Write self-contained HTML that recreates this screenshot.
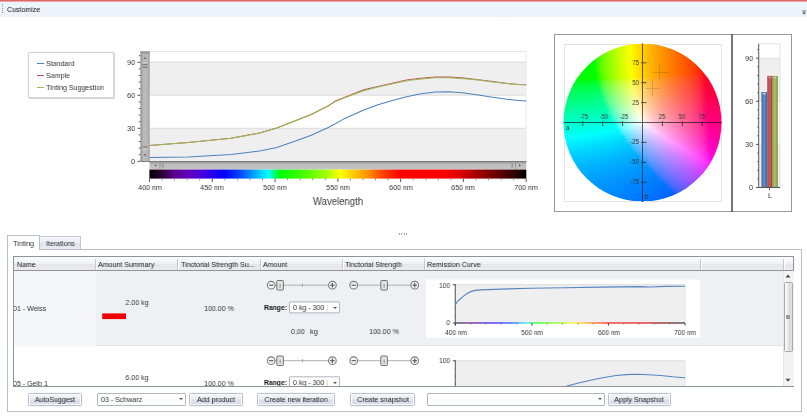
<!DOCTYPE html>
<html><head><meta charset="utf-8">
<style>
*{box-sizing:border-box;margin:0;padding:0}
html,body{width:807px;height:419px;overflow:hidden;background:#fff;font-family:"Liberation Sans",sans-serif;color:#222}
.a{position:absolute}
.t{position:absolute;white-space:nowrap;will-change:transform;font-size:7.5px;line-height:10px;color:#333}
.t{transform-origin:0 50%;transform:scaleX(.94)}
.tc{transform-origin:50% 50%;transform:translateX(-50%) scaleX(.94)}
.tr{transform-origin:100% 50%;transform:translateX(-100%) scaleX(.94)}
.w6{font-size:6.3px;line-height:8px;color:#333}

.hd{position:absolute;top:258.5px;height:11px;border-right:1px solid rgba(255,255,255,.9);box-shadow:inset -1px 0 0 #c6c9d0}
.btn{position:absolute;top:393px;height:12.5px;border:1px solid #b9c0cb;border-radius:1.5px;background:linear-gradient(#f3f6fa 0%,#e8ecf3 48%,#dde3ec 52%,#d5dce7 100%);box-shadow:inset 0 0 0 1px rgba(255,255,255,.8),0 0 1px rgba(150,165,190,.55)}
.cmb{position:absolute;border:1px solid #b2b6be;border-radius:1px;background:linear-gradient(#fff,#fbfbfc)}
.arr{position:absolute;width:0;height:0;border-left:2px solid transparent;border-right:2px solid transparent;border-top:2.4px solid #555}
.clip{position:absolute;left:13.5px;top:270.5px;width:769.5px;height:115.5px;overflow:hidden}
.m{font-size:6.9px}
#wheel i{position:absolute;height:1px;display:block}
</style></head><body>
<!-- top bar -->
<div class="a" style="left:0;top:0;width:807px;height:2px;background:linear-gradient(#e0666b 0,#e0666b 45%,#f6d5d8 100%)"></div>
<div class="a" style="left:0;top:2px;width:807px;height:14.5px;background:linear-gradient(#ecf6fd,#eef1fb)"></div>
<div class="a" style="left:2px;top:4px;width:1px;height:9px;background:repeating-linear-gradient(#8a8f9a 0 1px,transparent 1px 2px)"></div>
<div class="t" id="cust" style="left:7px;top:4.7px;color:#141414">Customize</div>

<svg class="a" style="left:799px;top:8px" width="8" height="8" viewBox="799 8 8 8"><rect x="802.3" y="10.6" width="3.6" height=".9" fill="#555"/><path d="M802.2,12.4 L806,12.4 L804.1,14.4 Z" fill="#444"/></svg>
<!-- legend -->
<div class="a" style="left:28px;top:52px;width:86px;height:46px;border:1px solid #d4d4d4;border-radius:2px;box-shadow:0.5px 0.5px 1px rgba(0,0,0,.18);background:#fff"></div>
<div class="a" style="left:36.5px;top:62.5px;width:7px;height:1px;background:#4f81bd"></div>
<div class="a" style="left:36.5px;top:74.5px;width:7px;height:1px;background:#c0504d"></div>
<div class="a" style="left:36.5px;top:86.5px;width:7px;height:1px;background:#9bbb59"></div>
<div class="t" id="lg1" style="left:46px;top:59px">Standard</div>
<div class="t" id="lg2" style="left:46px;top:70.7px">Sample</div>
<div class="t" id="lg3" style="left:46px;top:82.7px">Tinting Suggestion</div>

<!-- spectral chart -->
<svg class="a" style="left:0;top:0" width="545" height="215" viewBox="0 0 545 215">
 <defs>
  <linearGradient id="vs" x1="0" x2="1" y1="0" y2="0"><stop offset="0" stop-color="#8e8e8e"/><stop offset=".35" stop-color="#bdbdbd"/><stop offset=".8" stop-color="#b4b4b4"/><stop offset="1" stop-color="#9a9a9a"/></linearGradient>
  <linearGradient id="hs" x1="0" x2="0" y1="0" y2="1"><stop offset="0" stop-color="#8a8a8a"/><stop offset=".35" stop-color="#bdbdbd"/><stop offset="1" stop-color="#c4c4c4"/></linearGradient>
  <linearGradient id="sp" x1="0" x2="1" y1="0" y2="0">
   <stop offset="0" stop-color="#000"/><stop offset=".035" stop-color="#2a0036"/><stop offset=".067" stop-color="#5a0090"/><stop offset=".107" stop-color="#6000c0"/><stop offset=".147" stop-color="#4000e0"/><stop offset=".167" stop-color="#2000f0"/><stop offset=".2" stop-color="#0000ff"/><stop offset=".237" stop-color="#0040ff"/><stop offset=".27" stop-color="#0090ff"/><stop offset=".303" stop-color="#00e0ff"/><stop offset=".317" stop-color="#00ffff"/><stop offset=".33" stop-color="#00ff80"/><stop offset=".347" stop-color="#00ff00"/><stop offset=".403" stop-color="#40ff00"/><stop offset=".47" stop-color="#a0ff00"/><stop offset=".487" stop-color="#d0ff00"/><stop offset=".507" stop-color="#ffff00"/><stop offset=".547" stop-color="#ffc000"/><stop offset=".58" stop-color="#ff9000"/><stop offset=".61" stop-color="#ff5000"/><stop offset=".643" stop-color="#ff2000"/><stop offset=".667" stop-color="#ff0000"/><stop offset=".77" stop-color="#ff0000"/><stop offset=".823" stop-color="#e00000"/><stop offset=".86" stop-color="#b00000"/><stop offset=".9" stop-color="#800000"/><stop offset=".94" stop-color="#500000"/><stop offset=".98" stop-color="#200000"/><stop offset="1" stop-color="#000"/>
  </linearGradient>
 </defs>
 <!-- bands -->
 <rect x="149.5" y="62" width="376.7" height="33.2" fill="#efefef"/>
 <rect x="149.5" y="128.3" width="376.7" height="33" fill="#efefef"/>
 <g stroke="#dcdcdc" stroke-width="1">
  <line x1="140.5" y1="51.5" x2="526.2" y2="51.5" stroke="#e6e6e6"/>
  <line x1="149.5" y1="62" x2="526.2" y2="62"/>
  <line x1="149.5" y1="95.2" x2="526.2" y2="95.2"/>
  <line x1="149.5" y1="128.3" x2="526.2" y2="128.3"/>
  <line x1="526" y1="51.5" x2="526" y2="161" stroke="#e9e9e9"/>
 </g>
 <!-- curves -->
 <path id="cS" fill="none" stroke="#4f81bd" stroke-width="1.05" d="M149.5,157.6 L188,156.9 L231,154.6 L259.6,150.9 L276.8,147.4 L294,141.6 L311.2,135.3 L328.4,127.5 L345,118.4 L349.3,116.5 L363.7,110 L378,104.8 L392.3,100.4 L406.6,96.7 L421,93.8 L435.3,92.1 L449.6,91.8 L464,93 L478.3,95 L492.6,97.3 L507,99.3 L518.4,100.4 L526.2,101"/>
 <path id="cR" fill="none" stroke="#c0504d" stroke-width="1.05" d="M149.5,145.4 L188,142.5 L231,138.3 L259.6,133.1 L276.8,127.9 L294,121.2 L311.2,114.5 L328.4,105.7 L335,101.2 L349.3,95.5 L363.7,89.7 L378,86.6 L392.3,83.3 L406.6,80 L421,78.2 L435.3,77.1 L449.6,77.1 L464,78 L478.3,79.7 L492.6,81.6 L507,83.6 L518.4,84.4 L526.2,84.7"/>
 <path id="cT" fill="none" stroke="#9bbb59" stroke-width="1.05" d="M149.5,145.4 L188,142.5 L231,138.3 L259.6,133.1 L276.8,127.9 L294,121.2 L311.2,114.5 L328.4,105.7 L335,101.6 L349.3,96 L363.7,90.7 L378,87.1 L392.3,83.8 L406.6,80.7 L421,78.9 L435.3,77.8 L449.6,77.8 L464,78.7 L478.3,80.1 L492.6,81.9 L507,83.6 L518.4,84.4 L526.2,84.7"/>
 <!-- v scrollbar -->
 <rect x="140.4" y="51.4" width="9.3" height="110" fill="url(#vs)"/>
 <!-- h scrollbar -->
 <rect x="149.5" y="161.3" width="376.8" height="8.3" fill="url(#hs)"/>
 <rect x="140.4" y="161" width="386" height="1" fill="#7d7d7d"/>
<g fill="#6a6a6a">
  <rect x="140.4" y="51.4" width="9.3" height="2.2" fill="#9a9a9a"/>
  <path d="M143.6,59 L146.4,59 L145,57 Z"/>
  <rect x="142" y="62.3" width="6" height=".8" fill="#d0d0d0"/>
  <rect x="142.3" y="64" width="5.4" height=".9" fill="#777"/>
  <rect x="142.8" y="66.4" width="4.4" height="1.4" fill="#7d7d7d"/>
  <rect x="142.8" y="146.3" width="4.4" height="1.2" fill="#7d7d7d"/>
  <rect x="142.3" y="149" width="5.4" height=".9" fill="#d4d0dc"/>
  <path d="M143.6,154.3 L146.4,154.3 L145,156.3 Z"/>
  <path d="M156.4,164 L156.4,166.8 L154.4,165.4 Z"/>
  <rect x="159.6" y="162.5" width=".8" height="6.5" fill="#8c8c8c"/>
  <rect x="162.3" y="163.6" width="1.2" height="4" fill="#8a8a8a"/>
  <path d="M519,164 L519,166.8 L521,165.4 Z"/>
  <rect x="515.2" y="162.5" width=".8" height="6.5" fill="#8c8c8c"/>
  <rect x="511.6" y="163.6" width="1.2" height="4" fill="#8a8a8a"/>
 </g>
 <!-- spectrum -->
 <rect x="149.4" y="169.6" width="376.9" height="9" fill="url(#sp)"/>
 <!-- y ticks -->
 <g stroke="#555" stroke-width="1" id="yt"><line x1="137.5" y1="161.3" x2="140.4" y2="161.3"/><line x1="138.8" y1="154.7" x2="140.4" y2="154.7"/><line x1="138.8" y1="148.1" x2="140.4" y2="148.1"/><line x1="138.8" y1="141.5" x2="140.4" y2="141.5"/><line x1="138.8" y1="134.9" x2="140.4" y2="134.9"/><line x1="137.5" y1="128.3" x2="140.4" y2="128.3"/><line x1="138.8" y1="121.7" x2="140.4" y2="121.7"/><line x1="138.8" y1="115.1" x2="140.4" y2="115.1"/><line x1="138.8" y1="108.5" x2="140.4" y2="108.5"/><line x1="138.8" y1="101.9" x2="140.4" y2="101.9"/><line x1="137.5" y1="95.3" x2="140.4" y2="95.3"/><line x1="138.8" y1="88.7" x2="140.4" y2="88.7"/><line x1="138.8" y1="82.1" x2="140.4" y2="82.1"/><line x1="138.8" y1="75.5" x2="140.4" y2="75.5"/><line x1="138.8" y1="68.9" x2="140.4" y2="68.9"/><line x1="137.5" y1="62.3" x2="140.4" y2="62.3"/><line x1="138.8" y1="55.7" x2="140.4" y2="55.7"/></g>
 <g stroke="#555" stroke-width="1" id="xt"><line x1="149.5" y1="178.5" x2="149.5" y2="182"/><line x1="162.1" y1="178.5" x2="162.1" y2="180.3" stroke="#8a8a8a"/><line x1="174.6" y1="178.5" x2="174.6" y2="180.3" stroke="#8a8a8a"/><line x1="187.2" y1="178.5" x2="187.2" y2="180.3" stroke="#8a8a8a"/><line x1="199.7" y1="178.5" x2="199.7" y2="180.3" stroke="#8a8a8a"/><line x1="212.3" y1="178.5" x2="212.3" y2="182"/><line x1="224.8" y1="178.5" x2="224.8" y2="180.3" stroke="#8a8a8a"/><line x1="237.4" y1="178.5" x2="237.4" y2="180.3" stroke="#8a8a8a"/><line x1="250.0" y1="178.5" x2="250.0" y2="180.3" stroke="#8a8a8a"/><line x1="262.5" y1="178.5" x2="262.5" y2="180.3" stroke="#8a8a8a"/><line x1="275.1" y1="178.5" x2="275.1" y2="182"/><line x1="287.6" y1="178.5" x2="287.6" y2="180.3" stroke="#8a8a8a"/><line x1="300.2" y1="178.5" x2="300.2" y2="180.3" stroke="#8a8a8a"/><line x1="312.7" y1="178.5" x2="312.7" y2="180.3" stroke="#8a8a8a"/><line x1="325.3" y1="178.5" x2="325.3" y2="180.3" stroke="#8a8a8a"/><line x1="337.9" y1="178.5" x2="337.9" y2="182"/><line x1="350.4" y1="178.5" x2="350.4" y2="180.3" stroke="#8a8a8a"/><line x1="363.0" y1="178.5" x2="363.0" y2="180.3" stroke="#8a8a8a"/><line x1="375.5" y1="178.5" x2="375.5" y2="180.3" stroke="#8a8a8a"/><line x1="388.1" y1="178.5" x2="388.1" y2="180.3" stroke="#8a8a8a"/><line x1="400.6" y1="178.5" x2="400.6" y2="182"/><line x1="413.2" y1="178.5" x2="413.2" y2="180.3" stroke="#8a8a8a"/><line x1="425.8" y1="178.5" x2="425.8" y2="180.3" stroke="#8a8a8a"/><line x1="438.3" y1="178.5" x2="438.3" y2="180.3" stroke="#8a8a8a"/><line x1="450.9" y1="178.5" x2="450.9" y2="180.3" stroke="#8a8a8a"/><line x1="463.4" y1="178.5" x2="463.4" y2="182"/><line x1="476.0" y1="178.5" x2="476.0" y2="180.3" stroke="#8a8a8a"/><line x1="488.5" y1="178.5" x2="488.5" y2="180.3" stroke="#8a8a8a"/><line x1="501.1" y1="178.5" x2="501.1" y2="180.3" stroke="#8a8a8a"/><line x1="513.7" y1="178.5" x2="513.7" y2="180.3" stroke="#8a8a8a"/><line x1="526.2" y1="178.5" x2="526.2" y2="182"/></g>
</svg>
<div class="t tr" style="left:134.5px;top:57.8px">90</div>
<div class="t tr" style="left:134.5px;top:90.8px">60</div>
<div class="t tr" style="left:134.5px;top:123.9px">30</div>
<div class="t tr" style="left:134.5px;top:157.0px">0</div>
<div class="t tc" style="left:149.5px;top:183px">400 nm</div>
<div class="t tc" style="left:212.3px;top:183px">450 nm</div>
<div class="t tc" style="left:275.1px;top:183px">500 nm</div>
<div class="t tc" style="left:337.8px;top:183px">550 nm</div>
<div class="t tc" style="left:400.6px;top:183px">600 nm</div>
<div class="t tc" style="left:463.4px;top:183px">650 nm</div>
<div class="t tc" style="left:526.2px;top:183px">700 nm</div>
<div class="t tc" style="left:338px;top:196px;font-size:10.2px;line-height:12px;color:#3a3a3a">Wavelength</div>

<!-- colour wheel panel -->
<div class="a" style="left:553.5px;top:33.5px;width:179px;height:178.5px;border:1px solid #979797;background:#fff"></div>
<div class="a" style="left:731.5px;top:33.5px;width:60px;height:178.5px;border:1px solid #979797;border-left:none;background:#fff"></div>
<svg class="a" style="left:729px;top:33px" width="6" height="180" viewBox="729 33 6 180"><rect x="731.2" y="34" width="1.6" height="178" fill="#555"/></svg>
<div class="a" style="left:563.5px;top:43.5px;width:158.5px;height:158.5px;border:1px solid #e4e4e4;background:#fff"></div>
<div id="wheel" style="position:absolute;left:563px;top:43px;width:159px;height:159px;clip-path:circle(79px at 79.5px 79.5px)"><i style="left:78px;top:0px;width:3px;background:linear-gradient(90deg,#ffd200,#ffc800)"></i><i style="left:65px;top:1px;width:29px;background:linear-gradient(90deg,#f5ff00,#fff600,#ffe400,#ffd500,#ffc600,#ffb900,#ffac00,#ffa000)"></i><i style="left:60px;top:2px;width:39px;background:linear-gradient(90deg,#ddff00,#efff00,#fffc00,#ffeb00,#ffdc00,#ffcd00,#ffc000,#ffb400,#ffa900,#ff9e00,#ff9300)"></i><i style="left:56px;top:3px;width:47px;background:linear-gradient(90deg,#c9ff00,#dcff00,#efff00,#fffd00,#ffeb00,#ffdc00,#ffcd00,#ffc000,#ffb400,#ffa800,#ff9d00,#ff9300,#ff8900)"></i><i style="left:53px;top:4px;width:53px;background:linear-gradient(90deg,#bbff00,#ceff00,#e2ff00,#f5ff00,#fff600,#ffe500,#ffd500,#ffc700,#ffb900,#ffad00,#ffa100,#ff9600,#ff8b00,#ff8100)"></i><i style="left:50px;top:5px;width:59px;background:linear-gradient(90deg,#abff00,#bfff00,#d2ff00,#e4ff00,#f7ff00,#fff400,#ffe400,#ffd500,#ffc700,#ffba00,#ffae00,#ffa300,#ff9800,#ff8e00,#ff8300,#ff7900)"></i><i style="left:48px;top:6px;width:63px;background:linear-gradient(90deg,#a1ff00,#b5ff00,#c8ff00,#dbff00,#edff00,#fffe00,#ffec00,#ffdc00,#ffce00,#ffc100,#ffb400,#ffa900,#ff9d00,#ff9300,#ff8900,#ff7e00,#ff7400)"></i><i style="left:45px;top:7px;width:69px;background:linear-gradient(90deg,#90ff00,#a6ff00,#baff00,#ceff00,#e1ff00,#f5ff00,#fff600,#ffe500,#ffd500,#ffc700,#ffba00,#ffae00,#ffa200,#ff9700,#ff8c00,#ff8100,#ff7700,#ff6d00)"></i><i style="left:43px;top:8px;width:73px;background:linear-gradient(90deg,#84ff00,#9bff00,#b0ff00,#c4ff00,#d7ff00,#ebff00,#feff00,#ffee00,#ffdd00,#ffce00,#ffc100,#ffb400,#ffa800,#ff9c00,#ff9100,#ff8700,#ff7c00,#ff7200,#ff6800)"></i><i style="left:41px;top:9px;width:77px;background:linear-gradient(90deg,#77ff00,#8fff00,#a5ff00,#baff00,#ceff00,#e1ff00,#f4ff00,#fff700,#ffe500,#ffd600,#ffc700,#ffba00,#ffae00,#ffa200,#ff9700,#ff8c00,#ff8200,#ff7700,#ff6d00,#ff6300)"></i><i style="left:40px;top:10px;width:79px;background:linear-gradient(90deg,#6fff00,#88ff00,#9fff00,#b3ff00,#c6ff00,#d9ff00,#ecff00,#ffff00,#ffed00,#ffdd00,#ffcf00,#ffc100,#ffb500,#ffa900,#ff9e00,#ff9300,#ff8900,#ff7e00,#ff7400,#ff6a00,#ff6000)"></i><i style="left:38px;top:11px;width:83px;background:linear-gradient(90deg,#60ff00,#7cff00,#93ff00,#a8ff00,#bcff00,#d0ff00,#e2ff00,#f5ff00,#fff600,#ffe500,#ffd600,#ffc800,#ffbb00,#ffaf00,#ffa300,#ff9800,#ff8e00,#ff8400,#ff7900,#ff6f00,#ff6500,#ff5b00)"></i><i style="left:36px;top:12px;width:87px;background:linear-gradient(90deg,#4eff00,#6eff00,#87ff00,#9eff00,#b2ff00,#c6ff00,#d9ff00,#ecff00,#feff00,#ffee00,#ffdd00,#ffcf00,#ffc100,#ffb500,#ffa900,#ff9e00,#ff9300,#ff8900,#ff7e00,#ff7400,#ff6a00,#ff6000,#ff5600)"></i><i style="left:35px;top:13px;width:89px;background:linear-gradient(90deg,#42ff00,#67ff00,#82ff00,#99ff00,#afff00,#c3ff00,#d6ff00,#eaff00,#fdff00,#ffef00,#ffde00,#ffcf00,#ffc100,#ffb400,#ffa800,#ff9d00,#ff9200,#ff8700,#ff7d00,#ff7300,#ff6800,#ff5e00,#ff5300)"></i><i style="left:33px;top:14px;width:93px;background:linear-gradient(90deg,#22ff00,#56ff00,#75ff00,#8eff00,#a4ff00,#b9ff00,#ccff00,#e0ff00,#f3ff00,#fff800,#ffe600,#ffd600,#ffc800,#ffbb00,#ffae00,#ffa300,#ff9700,#ff8d00,#ff8200,#ff7800,#ff6e00,#ff6300,#ff5800,#ff4d00)"></i><i style="left:32px;top:15px;width:95px;background:linear-gradient(90deg,#00ff00,#4bff00,#6cff00,#86ff00,#9cff00,#b1ff00,#c5ff00,#d8ff00,#ebff00,#feff00,#ffee00,#ffde00,#ffcf00,#ffc200,#ffb500,#ffa900,#ff9e00,#ff9300,#ff8900,#ff7f00,#ff7500,#ff6a00,#ff6000,#ff5600,#ff4a00)"></i><i style="left:30px;top:16px;width:99px;background:linear-gradient(90deg,#00ff00,#31ff00,#5cff00,#79ff00,#91ff00,#a6ff00,#bbff00,#ceff00,#e1ff00,#f4ff00,#fff700,#ffe600,#ffd700,#ffc900,#ffbb00,#ffaf00,#ffa400,#ff9900,#ff8e00,#ff8400,#ff7a00,#ff7000,#ff6500,#ff5b00,#ff5000,#ff4400)"></i><i style="left:29px;top:17px;width:101px;background:linear-gradient(90deg,#00ff00,#1cff00,#54ff00,#73ff00,#8dff00,#a3ff00,#b8ff00,#ccff00,#dfff00,#f2ff00,#fff800,#ffe700,#ffd700,#ffc900,#ffbb00,#ffaf00,#ffa300,#ff9800,#ff8d00,#ff8200,#ff7800,#ff6e00,#ff6300,#ff5900,#ff4d00,#ff4100)"></i><i style="left:28px;top:18px;width:103px;background:linear-gradient(90deg,#00ff00,#00ff00,#48ff00,#6aff00,#84ff00,#9bff00,#b0ff00,#c4ff00,#d7ff00,#eaff00,#fdff00,#ffef00,#ffdf00,#ffd000,#ffc200,#ffb500,#ffaa00,#ff9e00,#ff9300,#ff8900,#ff7f00,#ff7500,#ff6b00,#ff6000,#ff5600,#ff4a00,#ff3e00)"></i><i style="left:27px;top:19px;width:105px;background:linear-gradient(90deg,#00ff00,#00ff00,#3dff00,#64ff00,#80ff00,#97ff00,#adff00,#c1ff00,#d5ff00,#e8ff00,#fcff00,#fff000,#ffdf00,#ffd000,#ffc200,#ffb500,#ffa900,#ff9e00,#ff9300,#ff8800,#ff7d00,#ff7300,#ff6900,#ff5e00,#ff5300,#ff4800,#ff3b00)"></i><i style="left:25px;top:20px;width:109px;background:linear-gradient(90deg,#00ff00,#00ff00,#15ff00,#52ff00,#72ff00,#8bff00,#a2ff00,#b7ff00,#cbff00,#deff00,#f2ff00,#fff900,#ffe700,#ffd700,#ffc900,#ffbc00,#ffaf00,#ffa300,#ff9800,#ff8d00,#ff8300,#ff7800,#ff6e00,#ff6400,#ff5900,#ff4e00,#ff4100,#ff3300)"></i><i style="left:24px;top:21px;width:111px;background:linear-gradient(90deg,#00ff00,#00ff00,#00ff00,#45ff00,#68ff00,#83ff00,#9aff00,#afff00,#c3ff00,#d6ff00,#e9ff00,#fcff00,#fff000,#ffdf00,#ffd000,#ffc300,#ffb600,#ffaa00,#ff9f00,#ff9400,#ff8900,#ff7f00,#ff7500,#ff6b00,#ff6000,#ff5600,#ff4a00,#ff3e00,#ff2f00)"></i><i style="left:23px;top:22px;width:113px;background:linear-gradient(90deg,#00ff00,#00ff00,#00ff00,#3aff00,#62ff00,#7eff00,#96ff00,#acff00,#c0ff00,#d4ff00,#e7ff00,#fbff00,#fff000,#ffe000,#ffd000,#ffc200,#ffb500,#ffa900,#ff9e00,#ff9300,#ff8800,#ff7e00,#ff7300,#ff6900,#ff5f00,#ff5400,#ff4800,#ff3b00,#ff2b00)"></i><i style="left:22px;top:23px;width:115px;background:linear-gradient(90deg,#00ff00,#00ff00,#00ff00,#24ff00,#56ff00,#75ff00,#8eff00,#a4ff00,#b8ff00,#ccff00,#dfff00,#f2ff00,#fff900,#ffe800,#ffd800,#ffca00,#ffbc00,#ffb000,#ffa400,#ff9900,#ff8f00,#ff8400,#ff7a00,#ff7000,#ff6600,#ff5b00,#ff5000,#ff4400,#ff3700,#ff2600)"></i><i style="left:21px;top:24px;width:117px;background:linear-gradient(90deg,#00ff00,#00ff00,#00ff00,#03ff00,#4fff00,#70ff00,#8aff00,#a0ff00,#b5ff00,#c9ff00,#ddff00,#f0ff00,#fffa00,#ffe800,#ffd800,#ffca00,#ffbc00,#ffb000,#ffa400,#ff9800,#ff8e00,#ff8300,#ff7900,#ff6e00,#ff6400,#ff5900,#ff4e00,#ff4200,#ff3400,#ff2100)"></i><i style="left:20px;top:25px;width:119px;background:linear-gradient(90deg,#00ff00,#00ff00,#00ff00,#00ff00,#3fff00,#65ff00,#80ff00,#98ff00,#adff00,#c1ff00,#d5ff00,#e8ff00,#fbff00,#fff100,#ffe000,#ffd100,#ffc300,#ffb600,#ffaa00,#ff9f00,#ff9400,#ff8900,#ff7f00,#ff7500,#ff6b00,#ff6100,#ff5600,#ff4b00,#ff3e00,#ff2f00,#ff1b00)"></i><i style="left:19px;top:26px;width:121px;background:linear-gradient(90deg,#00ff00,#00ff00,#00ff00,#00ff00,#34ff00,#5fff00,#7cff00,#94ff00,#aaff00,#bfff00,#d2ff00,#e6ff00,#f9ff00,#fff200,#ffe100,#ffd100,#ffc300,#ffb600,#ffaa00,#ff9e00,#ff9300,#ff8900,#ff7e00,#ff7400,#ff6900,#ff5f00,#ff5400,#ff4800,#ff3b00,#ff2b00,#ff1400)"></i><i style="left:19px;top:27px;width:121px;background:linear-gradient(90deg,#00ff00,#00ff00,#00ff00,#00ff00,#32ff00,#5eff00,#7bff00,#94ff00,#aaff00,#beff00,#d2ff00,#e6ff00,#f9ff00,#fff200,#ffe100,#ffd100,#ffc300,#ffb600,#ffaa00,#ff9e00,#ff9300,#ff8900,#ff7e00,#ff7400,#ff6900,#ff5f00,#ff5400,#ff4800,#ff3b00,#ff2c00,#ff1400)"></i><i style="left:18px;top:28px;width:123px;background:linear-gradient(90deg,#00ff00,#00ff00,#00ff00,#00ff00,#11ff00,#51ff00,#71ff00,#8aff00,#a1ff00,#b6ff00,#caff00,#ddff00,#f0ff00,#fffb00,#ffe900,#ffd900,#ffcb00,#ffbd00,#ffb100,#ffa500,#ff9a00,#ff8f00,#ff8500,#ff7a00,#ff7000,#ff6600,#ff5b00,#ff5000,#ff4500,#ff3700,#ff2703,#ff0905)"></i><i style="left:17px;top:29px;width:125px;background:linear-gradient(90deg,#00ff00,#00ff00,#00ff00,#00ff00,#00ff00,#49ff00,#6cff00,#86ff00,#9eff00,#b3ff00,#c7ff00,#dbff00,#efff00,#fffc00,#ffea00,#ffd900,#ffcb00,#ffbd00,#ffb000,#ffa400,#ff9900,#ff8e00,#ff8400,#ff7900,#ff6f00,#ff6400,#ff5a00,#ff4e00,#ff4203,#ff3406,#ff2209,#ff000c)"></i><i style="left:16px;top:30px;width:127px;background:linear-gradient(90deg,#00ff00,#00ff00,#00ff00,#00ff00,#00ff00,#36ff00,#60ff00,#7dff00,#95ff00,#aaff00,#bfff00,#d2ff00,#e6ff00,#f9ff00,#fff200,#ffe100,#ffd200,#ffc400,#ffb700,#ffab00,#ffa000,#ff9500,#ff8a00,#ff8000,#ff7500,#ff6b00,#ff6101,#ff5605,#ff4b08,#ff3e0b,#ff300d,#ff1b0f,#ff0010)"></i><i style="left:15px;top:31px;width:129px;background:linear-gradient(90deg,#00ff00,#00ff00,#00ff00,#00ff00,#00ff00,#28ff00,#59ff00,#78ff00,#91ff00,#a7ff00,#bcff00,#d0ff00,#e4ff00,#f7ff00,#fff300,#ffe200,#ffd200,#ffc400,#ffb700,#ffab00,#ff9f00,#ff9400,#ff8900,#ff7f00,#ff7403,#ff6a07,#ff5f0a,#ff540d,#ff490f,#ff3c11,#ff2c12,#ff1513,#ff0015)"></i><i style="left:15px;top:32px;width:129px;background:linear-gradient(90deg,#00ff00,#00ff00,#00ff00,#00ff00,#00ff00,#25ff00,#58ff00,#77ff00,#90ff00,#a7ff00,#bcff00,#d0ff00,#e3ff00,#f7ff00,#fff400,#ffe200,#ffd300,#ffc400,#ffb700,#ffab00,#ff9f00,#ff9402,#ff8906,#ff7f0a,#ff740d,#ff6a0f,#ff5f11,#ff5413,#ff4914,#ff3c15,#ff2c16,#ff1517,#ff0018)"></i><i style="left:14px;top:33px;width:131px;background:linear-gradient(90deg,#00ff00,#00ff00,#00ff00,#00ff00,#00ff00,#00ff00,#49ff00,#6cff00,#86ff00,#9dff00,#b3ff00,#c7ff00,#daff00,#eeff00,#fffd00,#ffeb00,#ffdb00,#ffcc00,#ffbe00,#ffb205,#ffa609,#ff9b0d,#ff9010,#ff8512,#ff7b13,#ff7115,#ff6616,#ff5c17,#ff5118,#ff4519,#ff381a,#ff271a,#ff0a1b,#ff001b)"></i><i style="left:13px;top:34px;width:133px;background:linear-gradient(90deg,#00ff00,#00ff00,#00ff00,#00ff00,#00ff00,#00ff00,#40ff00,#66ff00,#82ff00,#9aff00,#b0ff00,#c4ff00,#d8ff00,#ecff00,#fffe00,#ffec04,#ffdb09,#ffcc0e,#ffbe11,#ffb113,#ffa515,#ff9a17,#ff8f18,#ff8419,#ff7a1a,#ff6f1b,#ff651b,#ff5a1c,#ff4f1c,#ff431d,#ff351d,#ff231e,#ff001e,#ff001e)"></i><i style="left:12px;top:35px;width:135px;background:linear-gradient(90deg,#00ff00,#00ff00,#00ff00,#00ff00,#00ff00,#00ff00,#28ff00,#59ff00,#78ff00,#90ff00,#a7ff00,#bbff02,#cfff08,#e3ff0f,#f6ff14,#fff517,#ffe319,#ffd41a,#ffc61b,#ffb81c,#ffac1d,#ffa11e,#ff951e,#ff8b1e,#ff801f,#ff761f,#ff6c1f,#ff6120,#ff5720,#ff4b20,#ff3f20,#ff3021,#ff1c21,#ff0021,#ff0021)"></i><i style="left:12px;top:36px;width:135px;background:linear-gradient(90deg,#00ff00,#00ff00,#00ff00,#00ff00,#00ff00,#00ff00,#24ff03,#58ff07,#76ff0c,#90ff11,#a6ff14,#bbff18,#cfff1c,#e2ff1f,#f6ff23,#fff524,#ffe424,#ffd424,#ffc624,#ffb924,#ffac24,#ffa124,#ff9624,#ff8b24,#ff8024,#ff7624,#ff6c24,#ff6124,#ff5724,#ff4b24,#ff3f24,#ff3024,#ff1c24,#ff0024,#ff0024)"></i><i style="left:11px;top:37px;width:137px;background:linear-gradient(90deg,#00ff05,#00ff08,#00ff0b,#00ff0e,#00ff11,#00ff14,#06ff17,#50ff1a,#72ff1c,#8cff1f,#a3ff22,#b8ff24,#cdff27,#e0ff2a,#f4ff2d,#fff62e,#ffe42d,#ffd42c,#ffc62b,#ffb92b,#ffac2a,#ffa02a,#ff9529,#ff8a29,#ff8028,#ff7528,#ff6b28,#ff6027,#ff5527,#ff4927,#ff3c27,#ff2d27,#ff1626,#ff0026,#ff0026)"></i><i style="left:10px;top:38px;width:139px;background:linear-gradient(90deg,#00ff17,#00ff19,#00ff1b,#00ff1c,#00ff1e,#00ff20,#00ff22,#3eff24,#65ff26,#81ff28,#99ff2b,#afff2d,#c3ff2f,#d7ff32,#ebff35,#feff37,#ffed36,#ffdd34,#ffce32,#ffc031,#ffb330,#ffa72f,#ff9c2e,#ff912e,#ff862d,#ff7c2c,#ff712c,#ff672b,#ff5c2b,#ff512a,#ff452a,#ff382a,#ff2829,#ff0b29,#ff0029,#ff0029)"></i><i style="left:10px;top:39px;width:139px;background:linear-gradient(90deg,#00ff22,#00ff23,#00ff25,#00ff26,#00ff28,#00ff2a,#00ff2b,#3bff2d,#64ff2f,#80ff31,#98ff33,#aeff35,#c3ff37,#d6ff3a,#eaff3c,#feff3f,#ffee3d,#ffdd3a,#ffce39,#ffc037,#ffb335,#ffa734,#ff9c33,#ff9132,#ff8631,#ff7c30,#ff712f,#ff672f,#ff5c2e,#ff512e,#ff462d,#ff382d,#ff282c,#ff0b2c,#ff002b,#ff002b)"></i><i style="left:9px;top:40px;width:141px;background:linear-gradient(90deg,#00ff2a,#00ff2c,#00ff2d,#00ff2e,#00ff30,#00ff31,#00ff33,#2fff34,#5dff36,#7cff38,#95ff3a,#abff3c,#c0ff3e,#d4ff41,#e8ff43,#fcff46,#ffef43,#ffde41,#ffce3e,#ffc03c,#ffb33a,#ffa739,#ff9b37,#ff9036,#ff8535,#ff7b34,#ff7033,#ff6632,#ff5b31,#ff5030,#ff4330,#ff352f,#ff242f,#ff002e,#ff002e,#ff002d)"></i><i style="left:9px;top:41px;width:141px;background:linear-gradient(90deg,#00ff32,#00ff33,#00ff34,#00ff35,#00ff37,#00ff38,#00ff3a,#2bff3b,#5cff3d,#7aff3f,#94ff41,#aaff43,#bfff45,#d4ff47,#e8ff4a,#fcff4c,#ffef4a,#ffde46,#ffcf44,#ffc041,#ffb33f,#ffa73d,#ff9b3c,#ff903a,#ff8639,#ff7b37,#ff7036,#ff6635,#ff5b34,#ff5033,#ff4433,#ff3632,#ff2431,#ff0031,#ff0030,#ff002f)"></i><i style="left:8px;top:42px;width:143px;background:linear-gradient(90deg,#00ff38,#00ff39,#00ff3a,#00ff3b,#00ff3d,#00ff3e,#00ff3f,#00ff41,#4bff43,#6eff44,#89ff46,#a0ff48,#b6ff4a,#caff4c,#deff4e,#f2ff51,#fff951,#ffe74e,#ffd74a,#ffc847,#ffbb45,#ffae43,#ffa241,#ff973f,#ff8c3d,#ff813c,#ff773a,#ff6d39,#ff6238,#ff5737,#ff4c36,#ff4035,#ff3134,#ff1d33,#ff0033,#ff0032,#ff0031)"></i><i style="left:8px;top:43px;width:143px;background:linear-gradient(90deg,#00ff3e,#00ff3f,#00ff40,#00ff41,#00ff43,#00ff44,#00ff45,#00ff47,#49ff48,#6cff4a,#88ff4c,#9fff4e,#b5ff50,#c9ff52,#ddff54,#f1ff57,#fff957,#ffe753,#ffd74f,#ffc84c,#ffbb49,#ffae47,#ffa245,#ff9743,#ff8c41,#ff823f,#ff773e,#ff6d3c,#ff623b,#ff583a,#ff4c39,#ff4038,#ff3137,#ff1d36,#ff0035,#ff0034,#ff0034)"></i><i style="left:7px;top:44px;width:145px;background:linear-gradient(90deg,#00ff43,#00ff44,#00ff45,#00ff47,#00ff48,#00ff49,#00ff4b,#00ff4c,#3fff4e,#67ff4f,#83ff51,#9cff53,#b2ff55,#c7ff57,#dbff5a,#efff5c,#fffb5d,#ffe858,#ffd854,#ffc951,#ffbb4e,#ffae4b,#ffa248,#ff9746,#ff8c44,#ff8142,#ff7641,#ff6c3f,#ff613e,#ff563d,#ff4a3b,#ff3d3a,#ff2e39,#ff1838,#ff0037,#ff0036,#ff0036)"></i><i style="left:7px;top:45px;width:145px;background:linear-gradient(90deg,#00ff49,#00ff4a,#00ff4b,#00ff4c,#00ff4d,#00ff4e,#00ff50,#00ff51,#3cff53,#65ff54,#82ff56,#9bff58,#b1ff5a,#c6ff5c,#daff5f,#efff61,#fffb63,#ffe95d,#ffd859,#ffc955,#ffbb52,#ffae4f,#ffa24c,#ff974a,#ff8c48,#ff8146,#ff7644,#ff6c42,#ff6141,#ff563f,#ff4a3e,#ff3d3d,#ff2e3c,#ff183b,#ff003a,#ff0039,#ff0038)"></i><i style="left:6px;top:46px;width:147px;background:linear-gradient(90deg,#00ff4d,#00ff4e,#00ff4f,#00ff51,#00ff52,#00ff53,#00ff54,#00ff56,#1bff57,#56ff59,#76ff5b,#90ff5c,#a7ff5e,#bcff60,#d0ff63,#e5ff65,#f8ff68,#fff265,#ffe160,#ffd15c,#ffc358,#ffb655,#ffa952,#ff9e4f,#ff924c,#ff884a,#ff7d48,#ff7346,#ff6845,#ff5d43,#ff5242,#ff4640,#ff393f,#ff293e,#ff0e3d,#ff003c,#ff003b,#ff003a)"></i><i style="left:6px;top:47px;width:147px;background:linear-gradient(90deg,#00ff52,#00ff53,#00ff54,#00ff55,#00ff57,#00ff58,#00ff59,#00ff5b,#11ff5c,#53ff5e,#74ff5f,#8eff61,#a6ff63,#bbff65,#d0ff68,#e4ff6a,#f8ff6d,#fff36a,#ffe165,#ffd260,#ffc35c,#ffb659,#ffaa55,#ff9e53,#ff9350,#ff884e,#ff7d4b,#ff7349,#ff6848,#ff5e46,#ff5344,#ff4743,#ff3941,#ff2940,#ff0e3f,#ff003e,#ff003d,#ff003c)"></i><i style="left:5px;top:48px;width:149px;background:linear-gradient(90deg,#00ff57,#00ff58,#00ff59,#00ff5a,#00ff5b,#00ff5c,#00ff5e,#00ff5f,#00ff60,#4bff62,#6fff64,#8aff66,#a2ff68,#b8ff6a,#cdff6c,#e2ff6f,#f6ff72,#fff46f,#ffe26a,#ffd265,#ffc360,#ffb65c,#ffa959,#ff9d56,#ff9253,#ff8751,#ff7c4e,#ff724c,#ff674a,#ff5c48,#ff5147,#ff4545,#ff3744,#ff2542,#ff0341,#ff0040,#ff003f,#ff003e)"></i><i style="left:5px;top:49px;width:149px;background:linear-gradient(90deg,#00ff5b,#00ff5c,#00ff5d,#00ff5e,#00ff5f,#00ff61,#00ff62,#00ff63,#00ff65,#48ff67,#6dff68,#89ff6a,#a1ff6c,#b7ff6f,#ccff71,#e1ff74,#f5ff76,#fff574,#ffe36e,#ffd369,#ffc464,#ffb660,#ffaa5d,#ff9e5a,#ff9257,#ff8754,#ff7d51,#ff724f,#ff674d,#ff5c4b,#ff5149,#ff4548,#ff3746,#ff2545,#ff0443,#ff0042,#ff0041,#ff0040)"></i><i style="left:5px;top:50px;width:149px;background:linear-gradient(90deg,#00ff60,#00ff60,#00ff62,#00ff63,#00ff64,#00ff65,#00ff66,#00ff68,#00ff69,#44ff6b,#6bff6d,#87ff6f,#a0ff71,#b6ff73,#cbff76,#e0ff78,#f4ff7b,#fff679,#ffe373,#ffd36d,#ffc469,#ffb764,#ffaa60,#ff9e5d,#ff935a,#ff8857,#ff7d54,#ff7252,#ff6850,#ff5d4e,#ff514c,#ff454a,#ff3749,#ff2647,#ff0446,#ff0044,#ff0043,#ff0042)"></i><i style="left:4px;top:51px;width:151px;background:linear-gradient(90deg,#00ff64,#00ff64,#00ff66,#00ff67,#00ff68,#00ff69,#00ff6a,#00ff6c,#00ff6d,#28ff6f,#5bff71,#7bff73,#94ff75,#abff77,#c1ff79,#d5ff7c,#eaff7e,#feff81,#ffed7b,#ffdc75,#ffcc6f,#ffbe6a,#ffb166,#ffa562,#ff995f,#ff8e5c,#ff8459,#ff7957,#ff6e54,#ff6452,#ff5950,#ff4d4e,#ff414c,#ff324a,#ff1f49,#ff0047,#ff0046,#ff0045,#ff0043)"></i><i style="left:4px;top:52px;width:151px;background:linear-gradient(90deg,#00ff68,#00ff69,#00ff6a,#00ff6b,#00ff6c,#00ff6d,#00ff6f,#00ff70,#00ff72,#21ff73,#58ff75,#79ff77,#93ff79,#aaff7b,#c0ff7d,#d4ff80,#e9ff83,#fdff86,#ffee7f,#ffdc79,#ffcd73,#ffbf6e,#ffb26a,#ffa566,#ff9a62,#ff8f5f,#ff845c,#ff795a,#ff6f57,#ff6455,#ff5952,#ff4e50,#ff414f,#ff334d,#ff1f4b,#ff004a,#ff0048,#ff0047,#ff0045)"></i><i style="left:3px;top:53px;width:153px;background:linear-gradient(90deg,#00ff6c,#00ff6d,#00ff6e,#00ff6f,#00ff70,#00ff71,#00ff72,#00ff74,#00ff75,#00ff77,#51ff79,#74ff7b,#8fff7d,#a7ff7f,#bdff82,#d2ff84,#e7ff87,#fbff8a,#ffef84,#ffdd7d,#ffcd78,#ffbf72,#ffb26e,#ffa569,#ff9966,#ff8e62,#ff835f,#ff785c,#ff6e5a,#ff6357,#ff5855,#ff4c53,#ff3f51,#ff304f,#ff1a4d,#ff004c,#ff004a,#ff0049,#ff0047)"></i><i style="left:3px;top:54px;width:153px;background:linear-gradient(90deg,#00ff70,#00ff71,#00ff72,#00ff73,#00ff74,#00ff75,#00ff77,#00ff78,#00ff7a,#00ff7b,#4dff7d,#71ff7f,#8dff81,#a5ff84,#bbff86,#d1ff89,#e6ff8c,#faff8f,#fff089,#ffde82,#ffce7c,#ffc076,#ffb271,#ffa66d,#ff9a69,#ff8e65,#ff8362,#ff795f,#ff6e5c,#ff635a,#ff5857,#ff4c55,#ff3f53,#ff3051,#ff1b4f,#ff004e,#ff004c,#ff004b,#ff0049)"></i><i style="left:3px;top:55px;width:153px;background:linear-gradient(90deg,#00ff74,#00ff74,#00ff76,#00ff77,#00ff78,#00ff79,#00ff7b,#00ff7c,#00ff7e,#00ff7f,#49ff81,#6fff83,#8bff85,#a4ff88,#baff8a,#d0ff8d,#e4ff90,#f9ff93,#fff18e,#ffdf86,#ffcf80,#ffc07a,#ffb375,#ffa670,#ff9a6c,#ff8f69,#ff8465,#ff7962,#ff6e5f,#ff635d,#ff585a,#ff4c58,#ff3f56,#ff3054,#ff1b52,#ff0050,#ff004e,#ff004d,#ff004b)"></i><i style="left:2px;top:56px;width:155px;background:linear-gradient(90deg,#00ff77,#00ff78,#00ff79,#00ff7a,#00ff7b,#00ff7d,#00ff7e,#00ff80,#00ff81,#00ff83,#2fff85,#5fff87,#7eff89,#98ff8b,#afff8d,#c5ff90,#daff93,#eeff96,#fffb97,#ffe88f,#ffd787,#ffc881,#ffba7b,#ffad77,#ffa172,#ff966e,#ff8a6a,#ff8067,#ff7564,#ff6a61,#ff5f5e,#ff545c,#ff485a,#ff3b57,#ff2b55,#ff1253,#ff0052,#ff0050,#ff004e,#ff004d)"></i><i style="left:2px;top:57px;width:155px;background:linear-gradient(90deg,#00ff7b,#00ff7c,#00ff7d,#00ff7e,#00ff7f,#00ff81,#00ff82,#00ff84,#00ff85,#00ff87,#27ff89,#5cff8b,#7cff8d,#96ff8f,#aeff91,#c3ff94,#d8ff97,#edff9a,#fffc9c,#ffe993,#ffd88c,#ffc985,#ffbb7f,#ffae7a,#ffa276,#ff9671,#ff8b6e,#ff806a,#ff7567,#ff6b64,#ff6061,#ff545e,#ff495c,#ff3b5a,#ff2b58,#ff1256,#ff0054,#ff0052,#ff0050,#ff004f)"></i><i style="left:2px;top:58px;width:155px;background:linear-gradient(90deg,#00ff7f,#00ff80,#00ff81,#00ff82,#00ff83,#00ff85,#00ff86,#00ff87,#00ff89,#00ff8b,#1eff8d,#59ff8f,#7aff91,#94ff93,#acff96,#c2ff98,#d7ff9b,#ecff9e,#fffda1,#ffea98,#ffd990,#ffca89,#ffbb83,#ffae7e,#ffa279,#ff9675,#ff8b71,#ff806d,#ff766a,#ff6b67,#ff6064,#ff5561,#ff495f,#ff3b5c,#ff2b5a,#ff1258,#ff0056,#ff0054,#ff0053,#ff0051)"></i><i style="left:2px;top:59px;width:155px;background:linear-gradient(90deg,#00ff83,#00ff84,#00ff85,#00ff86,#00ff87,#00ff88,#00ff8a,#00ff8b,#00ff8d,#00ff8f,#10ff91,#55ff93,#77ff95,#92ff97,#aaff9a,#c0ff9c,#d6ff9f,#ebffa3,#ffffa6,#ffeb9c,#ffda94,#ffca8d,#ffbc87,#ffaf81,#ffa37c,#ff9778,#ff8c74,#ff8170,#ff766d,#ff6b69,#ff6066,#ff5564,#ff4961,#ff3c5f,#ff2c5c,#ff135a,#ff0058,#ff0056,#ff0055,#ff0053)"></i><i style="left:1px;top:60px;width:157px;background:linear-gradient(90deg,#00ff86,#00ff87,#00ff88,#00ff89,#00ff8b,#00ff8c,#00ff8d,#00ff8f,#00ff91,#00ff92,#00ff94,#4cff96,#72ff98,#8eff9b,#a7ff9d,#bdffa0,#d3ffa3,#e8ffa7,#feffaa,#ffeca1,#ffdb99,#ffcb91,#ffbc8b,#ffaf85,#ffa280,#ff967b,#ff8b77,#ff8073,#ff756f,#ff6a6c,#ff5f69,#ff5366,#ff4763,#ff3961,#ff285e,#ff0b5c,#ff005a,#ff0058,#ff0056,#ff0054)"></i><i style="left:1px;top:61px;width:157px;background:linear-gradient(90deg,#00ff8a,#00ff8b,#00ff8c,#00ff8d,#00ff8e,#00ff90,#00ff91,#00ff93,#00ff94,#00ff96,#00ff98,#48ff9a,#6fff9c,#8cff9f,#a5ffa1,#bcffa4,#d2ffa7,#e7ffab,#fcffaf,#ffeda6,#ffdc9d,#ffcc95,#ffbd8f,#ffaf89,#ffa383,#ff977e,#ff8b7a,#ff8076,#ff7572,#ff6a6f,#ff5f6b,#ff5468,#ff4766,#ff3a63,#ff2961,#ff0b5e,#ff005c,#ff005a,#ff0058,#ff0057)"></i><i style="left:1px;top:62px;width:157px;background:linear-gradient(90deg,#00ff8d,#00ff8e,#00ff90,#00ff91,#00ff92,#00ff93,#00ff95,#00ff96,#00ff98,#00ff9a,#00ff9c,#43ff9e,#6cffa0,#89ffa3,#a3ffa5,#baffa8,#d0ffab,#e6ffaf,#fbffb3,#ffefab,#ffdca1,#ffcc99,#ffbe92,#ffb08c,#ffa387,#ff9782,#ff8c7d,#ff8179,#ff7675,#ff6b71,#ff606e,#ff546b,#ff4868,#ff3a66,#ff2963,#ff0c61,#ff005e,#ff005c,#ff005a,#ff0059)"></i><i style="left:1px;top:63px;width:157px;background:linear-gradient(90deg,#00ff91,#00ff92,#00ff93,#00ff94,#00ff96,#00ff97,#00ff99,#00ff9a,#00ff9c,#00ff9e,#00ffa0,#3dffa2,#68ffa4,#87ffa7,#a1ffa9,#b8ffac,#cfffb0,#e4ffb3,#faffb7,#fff0b0,#ffdda6,#ffcd9e,#ffbe96,#ffb190,#ffa48a,#ff9885,#ff8c80,#ff817c,#ff7678,#ff6b74,#ff6071,#ff546e,#ff486b,#ff3a68,#ff2965,#ff0d63,#ff0061,#ff005f,#ff005c,#ff005b)"></i><i style="left:0px;top:64px;width:159px;background:linear-gradient(90deg,#00ff94,#00ff95,#00ff96,#00ff98,#00ff99,#00ff9a,#00ff9c,#00ff9d,#00ff9f,#00ffa1,#00ffa3,#0cffa5,#56ffa7,#78ffaa,#94ffac,#acffaf,#c3ffb2,#d9ffb5,#eeffb9,#fffbba,#ffe7af,#ffd6a6,#ffc79e,#ffb997,#ffab91,#ff9f8b,#ff9386,#ff8882,#ff7d7d,#ff7279,#ff6776,#ff5c72,#ff506f,#ff446c,#ff356a,#ff2367,#ff0065,#ff0062,#ff0060,#ff005e,#ff005c)"></i><i style="left:0px;top:65px;width:159px;background:linear-gradient(90deg,#00ff98,#00ff99,#00ff9a,#00ff9b,#00ff9d,#00ff9e,#00ff9f,#00ffa1,#00ffa3,#00ffa5,#00ffa7,#00ffa9,#51ffab,#75ffad,#92ffb0,#aaffb3,#c1ffb6,#d7ffb9,#ecffbd,#fffcbf,#ffe9b4,#ffd7ab,#ffc8a2,#ffb99b,#ffac95,#ffa08f,#ff948a,#ff8885,#ff7d80,#ff727c,#ff6779,#ff5c75,#ff5172,#ff446f,#ff366c,#ff2369,#ff0067,#ff0064,#ff0062,#ff0060,#ff005e)"></i><i style="left:0px;top:66px;width:159px;background:linear-gradient(90deg,#00ff9b,#00ff9d,#00ff9e,#00ff9f,#00ffa0,#00ffa2,#00ffa3,#00ffa5,#00ffa6,#00ffa8,#00ffaa,#00ffac,#4cffaf,#72ffb1,#8fffb4,#a8ffb7,#bfffba,#d5ffbd,#ebffc1,#fffec4,#ffeab9,#ffd8af,#ffc8a6,#ffba9f,#ffad98,#ffa092,#ff948d,#ff8988,#ff7e83,#ff737f,#ff687b,#ff5d78,#ff5174,#ff4471,#ff366e,#ff246c,#ff0069,#ff0067,#ff0064,#ff0062,#ff0060)"></i><i style="left:0px;top:67px;width:159px;background:linear-gradient(90deg,#00ff9f,#00ffa0,#00ffa1,#00ffa2,#00ffa4,#00ffa5,#00ffa7,#00ffa8,#00ffaa,#00ffac,#00ffae,#00ffb0,#47ffb3,#6fffb5,#8cffb8,#a6ffbb,#bdffbe,#d3ffc1,#e9ffc5,#ffffc9,#ffebbe,#ffd9b4,#ffc9ab,#ffbba3,#ffad9c,#ffa196,#ff9590,#ff898b,#ff7e86,#ff7382,#ff687e,#ff5d7a,#ff5177,#ff4574,#ff3671,#ff246e,#ff006b,#ff0069,#ff0067,#ff0064,#ff0062)"></i><i style="left:0px;top:68px;width:159px;background:linear-gradient(90deg,#00ffa2,#00ffa4,#00ffa5,#00ffa6,#00ffa7,#00ffa9,#00ffaa,#00ffac,#00ffae,#00ffb0,#00ffb2,#00ffb4,#41ffb6,#6bffb9,#8affbc,#a4ffbf,#bbffc2,#d2ffc5,#e7ffc9,#fdffce,#ffecc3,#ffdab8,#ffcaaf,#ffbca7,#ffaea0,#ffa199,#ff9594,#ff8a8e,#ff7f8a,#ff7385,#ff6881,#ff5d7d,#ff527a,#ff4576,#ff3773,#ff2470,#ff006e,#ff006b,#ff0069,#ff0066,#ff0064)"></i><i style="left:0px;top:69px;width:159px;background:linear-gradient(90deg,#00ffa6,#00ffa7,#00ffa8,#00ffaa,#00ffab,#00ffac,#00ffae,#00ffb0,#00ffb1,#00ffb3,#00ffb5,#00ffb8,#3affba,#67ffbd,#87ffbf,#a1ffc2,#b9ffc6,#d0ffc9,#e6ffcd,#fcffd2,#ffeec8,#ffdbbd,#ffcbb3,#ffbcab,#ffafa4,#ffa29d,#ff9697,#ff8a92,#ff7f8d,#ff7488,#ff6984,#ff5e80,#ff527c,#ff4579,#ff3776,#ff2573,#ff0070,#ff006d,#ff006b,#ff0069,#ff0066)"></i><i style="left:0px;top:70px;width:159px;background:linear-gradient(90deg,#00ffa9,#00ffab,#00ffac,#00ffad,#00ffae,#00ffb0,#00ffb2,#00ffb3,#00ffb5,#00ffb7,#00ffb9,#00ffbb,#31ffbe,#63ffc0,#84ffc3,#9fffc6,#b7ffca,#ceffcd,#e4ffd1,#faffd6,#ffefcd,#ffddc1,#ffccb8,#ffbdaf,#ffafa7,#ffa3a1,#ff969a,#ff8b95,#ff7f90,#ff748b,#ff6987,#ff5e83,#ff527f,#ff467c,#ff3778,#ff2575,#ff0172,#ff0070,#ff006d,#ff006b,#ff0068)"></i><i style="left:0px;top:71px;width:159px;background:linear-gradient(90deg,#00ffad,#00ffae,#00ffaf,#00ffb1,#00ffb2,#00ffb3,#00ffb5,#00ffb7,#00ffb9,#00ffbb,#00ffbd,#00ffbf,#27ffc2,#5fffc4,#81ffc7,#9cffca,#b5ffce,#ccffd1,#e2ffd5,#f8ffda,#fff1d2,#ffdec6,#ffcdbc,#ffbeb3,#ffb0ab,#ffa3a4,#ff979e,#ff8b98,#ff8093,#ff758e,#ff6a8a,#ff5e86,#ff5382,#ff467e,#ff387b,#ff2578,#ff0275,#ff0072,#ff006f,#ff006d,#ff006a)"></i><i style="left:0px;top:72px;width:159px;background:linear-gradient(90deg,#00ffb0,#00ffb2,#00ffb3,#00ffb4,#00ffb6,#00ffb7,#00ffb9,#00ffba,#00ffbc,#00ffbe,#00ffc0,#00ffc3,#17ffc5,#5affc8,#7dffcb,#99ffce,#b2ffd1,#caffd5,#e0ffd9,#f6ffde,#fff2d7,#ffdfcb,#ffcec0,#ffbfb7,#ffb1af,#ffa4a8,#ff98a1,#ff8c9b,#ff8096,#ff7591,#ff6a8d,#ff5f88,#ff5384,#ff4681,#ff387d,#ff267a,#ff0377,#ff0074,#ff0072,#ff006f,#ff006d)"></i><i style="left:0px;top:73px;width:159px;background:linear-gradient(90deg,#00ffb4,#00ffb5,#00ffb6,#00ffb8,#00ffb9,#00ffbb,#00ffbc,#00ffbe,#00ffc0,#00ffc2,#00ffc4,#00ffc6,#00ffc9,#55ffcc,#7affcf,#97ffd2,#b0ffd5,#c7ffd9,#deffdd,#f4ffe2,#fff4dc,#ffe0d0,#ffcfc5,#ffc0bb,#ffb2b3,#ffa5ac,#ff98a5,#ff8c9f,#ff8199,#ff7694,#ff6a8f,#ff5f8b,#ff5387,#ff4783,#ff3880,#ff267d,#ff0479,#ff0076,#ff0074,#ff0071,#ff006f)"></i><i style="left:0px;top:74px;width:159px;background:linear-gradient(90deg,#00ffb7,#00ffb8,#00ffba,#00ffbb,#00ffbd,#00ffbe,#00ffc0,#00ffc2,#00ffc3,#00ffc5,#00ffc8,#00ffca,#00ffcd,#4fffcf,#76ffd2,#94ffd6,#adffd9,#c5ffdd,#dcffe1,#f2ffe6,#fff5e2,#ffe2d5,#ffd0c9,#ffc1c0,#ffb3b7,#ffa5af,#ff99a8,#ff8da2,#ff819c,#ff7697,#ff6b92,#ff5f8e,#ff548a,#ff4786,#ff3982,#ff277f,#ff057c,#ff0079,#ff0076,#ff0073,#ff0071)"></i><i style="left:0px;top:75px;width:159px;background:linear-gradient(90deg,#00ffbb,#00ffbc,#00ffbd,#00ffbf,#00ffc0,#00ffc2,#00ffc3,#00ffc5,#00ffc7,#00ffc9,#00ffcb,#00ffce,#00ffd0,#49ffd3,#72ffd6,#90ffd9,#abffdd,#c3ffe1,#daffe5,#f0ffea,#fff7e7,#ffe3da,#ffd2ce,#ffc2c4,#ffb3bb,#ffa6b3,#ff99ac,#ff8da6,#ff82a0,#ff769a,#ff6b95,#ff6091,#ff548d,#ff4789,#ff3985,#ff2781,#ff067e,#ff007b,#ff0078,#ff0075,#ff0073)"></i><i style="left:0px;top:76px;width:159px;background:linear-gradient(90deg,#00ffbe,#00ffbf,#00ffc1,#00ffc2,#00ffc3,#00ffc5,#00ffc7,#00ffc9,#00ffcb,#00ffcd,#00ffcf,#00ffd1,#00ffd4,#41ffd7,#6effda,#8dffdd,#a8ffe1,#c0ffe5,#d8ffe9,#eeffee,#fff9ed,#ffe5df,#ffd3d3,#ffc3c8,#ffb4bf,#ffa7b7,#ff9ab0,#ff8ea9,#ff82a3,#ff779d,#ff6c98,#ff6094,#ff548f,#ff488b,#ff3987,#ff2884,#ff0781,#ff007d,#ff007a,#ff0078,#ff0075)"></i><i style="left:0px;top:77px;width:159px;background:linear-gradient(90deg,#00ffc1,#00ffc3,#00ffc4,#00ffc5,#00ffc7,#00ffc9,#00ffca,#00ffcc,#00ffce,#00ffd0,#00ffd3,#00ffd5,#00ffd8,#39ffdb,#69ffde,#8affe1,#a5ffe5,#beffe9,#d5ffed,#ecfff2,#fffbf3,#ffe6e4,#ffd4d8,#ffc4cd,#ffb5c3,#ffa8bb,#ff9bb3,#ff8fad,#ff83a6,#ff77a1,#ff6c9b,#ff6197,#ff5592,#ff488e,#ff3a8a,#ff2886,#ff0883,#ff0080,#ff007d,#ff007a,#ff0077)"></i><i style="left:0px;top:78px;width:159px;background:linear-gradient(90deg,#00ffc5,#00ffc6,#00ffc7,#00ffc9,#00ffca,#00ffcc,#00ffce,#00ffd0,#00ffd2,#00ffd4,#00ffd6,#00ffd9,#00ffdb,#2effde,#64ffe1,#86ffe5,#a2ffe8,#bbffec,#d3fff1,#eafff6,#fffdf9,#ffe8ea,#ffd6dd,#ffc5d1,#ffb6c8,#ffa8bf,#ff9cb7,#ff8fb0,#ff83aa,#ff78a4,#ff6d9e,#ff619a,#ff5595,#ff4891,#ff3a8d,#ff2989,#ff0985,#ff0082,#ff007f,#ff007c,#ff0079)"></i><i style="left:0px;top:79px;width:159px;background:linear-gradient(90deg,#00ffc8,#00ffca,#00ffcb,#00ffcc,#00ffce,#00ffcf,#00ffd1,#00ffd3,#00ffd5,#00ffd7,#00ffda,#00ffdc,#00ffdf,#1fffe2,#5fffe5,#82ffe9,#9fffec,#b9fff0,#d1fff5,#e8fffa,#ffffff,#ffeaef,#ffd7e2,#ffc6d6,#ffb7cc,#ffa9c3,#ff9cbb,#ff90b4,#ff84ad,#ff78a7,#ff6da2,#ff619c,#ff5698,#ff4993,#ff3b8f,#ff298b,#ff0b88,#ff0085,#ff0081,#ff007e,#ff007b)"></i><i style="left:0px;top:80px;width:159px;background:linear-gradient(90deg,#00ffcc,#00ffcd,#00ffce,#00ffd0,#00ffd1,#00ffd3,#00ffd5,#00ffd7,#00ffd9,#00ffdb,#00ffdd,#00ffe0,#00ffe3,#00ffe6,#59ffe9,#7effec,#9cfff0,#b6fff4,#cefff9,#e6fffe,#f9fbff,#ffebf5,#ffd8e7,#ffc8db,#ffb8d0,#ffaac7,#ff9dbf,#ff91b7,#ff85b0,#ff79aa,#ff6ea5,#ff629f,#ff569b,#ff4996,#ff3b92,#ff298e,#ff0c8a,#ff0087,#ff0084,#ff0081,#ff007e)"></i><i style="left:0px;top:81px;width:159px;background:linear-gradient(90deg,#00ffcf,#00ffd0,#00ffd2,#00ffd3,#00ffd5,#00ffd6,#00ffd8,#00ffda,#00ffdc,#00ffde,#00ffe1,#00ffe3,#00ffe6,#00ffe9,#52ffec,#7afff0,#98fff4,#b3fff8,#ccfffd,#e1fdff,#f3f7ff,#ffedfa,#ffdaec,#ffc9df,#ffb9d5,#ffabcb,#ff9ec2,#ff91bb,#ff85b4,#ff7aae,#ff6ea8,#ff62a2,#ff569e,#ff4a99,#ff3b95,#ff2a91,#ff0d8d,#ff0089,#ff0086,#ff0083,#ff0080)"></i><i style="left:0px;top:82px;width:159px;background:linear-gradient(90deg,#00ffd2,#00ffd4,#00ffd5,#00ffd7,#00ffd8,#00ffda,#00ffdc,#00ffde,#00ffe0,#00ffe2,#00ffe4,#00ffe7,#00ffea,#00ffed,#4bfff0,#75fff4,#95fff8,#b0fffc,#c8feff,#dbf9ff,#edf4ff,#feeeff,#ffdbf1,#ffcae4,#ffbad9,#ffaccf,#ff9fc6,#ff92bf,#ff86b7,#ff7ab1,#ff6fab,#ff63a5,#ff57a0,#ff4a9c,#ff3c97,#ff2a93,#ff0e8f,#ff008c,#ff0088,#ff0085,#ff0082)"></i><i style="left:0px;top:83px;width:159px;background:linear-gradient(90deg,#00ffd6,#00ffd7,#00ffd8,#00ffda,#00ffdc,#00ffdd,#00ffdf,#00ffe1,#00ffe3,#00ffe6,#00ffe8,#00ffeb,#00ffed,#00fff1,#42fff4,#70fff7,#91fffb,#acfeff,#c2faff,#d5f5ff,#e7f0ff,#f8ebff,#ffddf6,#ffcbe9,#ffbcde,#ffadd3,#ffa0ca,#ff93c2,#ff87bb,#ff7bb4,#ff6fae,#ff63a9,#ff57a3,#ff4b9f,#ff3c9a,#ff2b96,#ff0f92,#ff008e,#ff008b,#ff0087,#ff0084)"></i><i style="left:0px;top:84px;width:159px;background:linear-gradient(90deg,#00ffd9,#00ffda,#00ffdc,#00ffdd,#00ffdf,#00ffe1,#00ffe3,#00ffe5,#00ffe7,#00ffe9,#00ffec,#00ffee,#00fff1,#00fff4,#38fff8,#6bfffb,#8dffff,#a6fbff,#bcf6ff,#d0f1ff,#e2ecff,#f2e7ff,#ffdffc,#ffcdee,#ffbde2,#ffaed8,#ffa0ce,#ff94c6,#ff87be,#ff7bb8,#ff70b1,#ff64ac,#ff58a6,#ff4ba1,#ff3d9d,#ff2b98,#ff1094,#ff0091,#ff008d,#ff008a,#ff0086)"></i><i style="left:0px;top:85px;width:159px;background:linear-gradient(90deg,#00ffdc,#00ffde,#00ffdf,#00ffe1,#00ffe2,#00ffe4,#00ffe6,#00ffe8,#00ffea,#00ffed,#00ffef,#00fff2,#00fff5,#00fff8,#2bfffb,#65ffff,#87fbff,#a1f7ff,#b7f3ff,#caeeff,#dce9ff,#ede4ff,#fcdeff,#ffcef3,#ffbee7,#ffafdc,#ffa1d2,#ff94ca,#ff88c2,#ff7cbb,#ff70b5,#ff64af,#ff58a9,#ff4ba4,#ff3d9f,#ff2c9b,#ff1197,#ff0093,#ff008f,#ff008c,#ff0089)"></i><i style="left:0px;top:86px;width:159px;background:linear-gradient(90deg,#00ffe0,#00ffe1,#00ffe3,#00ffe4,#00ffe6,#00ffe8,#00ffe9,#00ffec,#00ffee,#00fff0,#00fff3,#00fff5,#00fff8,#00fffb,#16ffff,#5dfbff,#80f8ff,#9bf3ff,#b1efff,#c5ebff,#d7e6ff,#e7e1ff,#f7dbff,#ffd0f8,#ffbfec,#ffb0e0,#ffa2d7,#ff95ce,#ff89c6,#ff7dbf,#ff71b8,#ff65b2,#ff59ac,#ff4ca7,#ff3ea2,#ff2d9e,#ff129a,#ff0096,#ff0092,#ff008e,#ff008b)"></i><i style="left:0px;top:87px;width:159px;background:linear-gradient(90deg,#00ffe3,#00ffe4,#00ffe6,#00ffe8,#00ffe9,#00ffeb,#00ffed,#00ffef,#00fff1,#00fff4,#00fff6,#00fff9,#00fffc,#00ffff,#00fbff,#55f8ff,#7af4ff,#95f0ff,#abecff,#bfe7ff,#d1e3ff,#e2ddff,#f1d8ff,#ffd1fe,#ffc1f1,#ffb1e5,#ffa3db,#ff96d2,#ff89c9,#ff7dc2,#ff71bb,#ff65b5,#ff59af,#ff4caa,#ff3ea5,#ff2da0,#ff139c,#ff0098,#ff0094,#ff0091,#ff008d)"></i><i style="left:0px;top:88px;width:159px;background:linear-gradient(90deg,#00ffe6,#00ffe8,#00ffe9,#00ffeb,#00ffed,#00ffee,#00fff0,#00fff2,#00fff5,#00fff7,#00fffa,#00fffc,#00ffff,#00fbff,#00f8ff,#4cf4ff,#73f1ff,#8fedff,#a6e9ff,#bae4ff,#ccdfff,#dddaff,#ecd5ff,#fbd0ff,#ffc2f6,#ffb2ea,#ffa4df,#ff97d6,#ff8acd,#ff7ec6,#ff72bf,#ff66b8,#ff5ab2,#ff4dad,#ff3fa8,#ff2ea3,#ff149f,#ff009b,#ff0097,#ff0093,#ff0090)"></i><i style="left:0px;top:89px;width:159px;background:linear-gradient(90deg,#00ffea,#00ffeb,#00ffed,#00ffee,#00fff0,#00fff2,#00fff4,#00fff6,#00fff8,#00fffb,#00fffd,#00feff,#00fbff,#00f8ff,#00f5ff,#42f1ff,#6cedff,#89e9ff,#a0e5ff,#b5e1ff,#c7dcff,#d7d8ff,#e7d2ff,#f6cdff,#ffc3fb,#ffb4ee,#ffa5e3,#ff98da,#ff8bd1,#ff7fc9,#ff73c2,#ff67bc,#ff5ab6,#ff4db0,#ff3fab,#ff2ea6,#ff15a1,#ff009d,#ff0099,#ff0095,#ff0092)"></i><i style="left:0px;top:90px;width:159px;background:linear-gradient(90deg,#00ffed,#00ffef,#00fff0,#00fff2,#00fff3,#00fff5,#00fff7,#00fff9,#00fffc,#00fffe,#00fdff,#00faff,#00f8ff,#00f4ff,#00f1ff,#37eeff,#66eaff,#83e6ff,#9be2ff,#afdeff,#c1d9ff,#d2d5ff,#e2d0ff,#f0caff,#fec4ff,#ffb5f3,#ffa6e8,#ff99de,#ff8cd5,#ff7fcd,#ff73c6,#ff67bf,#ff5bb9,#ff4eb3,#ff40ae,#ff2fa9,#ff16a4,#ff00a0,#ff009c,#ff0098,#ff0094)"></i><i style="left:0px;top:91px;width:159px;background:linear-gradient(90deg,#00fff0,#00fff2,#00fff3,#00fff5,#00fff7,#00fff9,#00fffb,#00fffd,#00ffff,#00fcff,#00faff,#00f7ff,#00f4ff,#00f1ff,#00eeff,#29ebff,#5ee7ff,#7de3ff,#95dfff,#aadbff,#bcd7ff,#cdd2ff,#ddcdff,#ebc7ff,#f9c2ff,#ffb6f8,#ffa7ec,#ff9ae2,#ff8dd9,#ff80d1,#ff74c9,#ff68c2,#ff5bbc,#ff4eb6,#ff40b1,#ff2fac,#ff17a7,#ff00a2,#ff009e,#ff009a,#ff0097)"></i><i style="left:0px;top:92px;width:159px;background:linear-gradient(90deg,#00fff4,#00fff5,#00fff7,#00fff8,#00fffa,#00fffc,#00fffe,#00feff,#00fbff,#00f9ff,#00f7ff,#00f4ff,#00f1ff,#00eeff,#00ebff,#14e8ff,#57e4ff,#77e0ff,#90dcff,#a5d8ff,#b7d4ff,#c8cfff,#d7caff,#e6c5ff,#f4bfff,#ffb8fd,#ffa9f1,#ff9be6,#ff8edd,#ff81d4,#ff75cd,#ff68c6,#ff5cbf,#ff4fb9,#ff41b4,#ff30ae,#ff17aa,#ff00a5,#ff00a1,#ff009d,#ff0099)"></i><i style="left:0px;top:93px;width:159px;background:linear-gradient(90deg,#00fff7,#00fff8,#00fffa,#00fffc,#00fffd,#00ffff,#00fdff,#00faff,#00f8ff,#00f6ff,#00f3ff,#00f1ff,#00eeff,#00ebff,#00e8ff,#00e4ff,#4ee1ff,#71ddff,#8ad9ff,#9fd5ff,#b2d1ff,#c3ccff,#d2c8ff,#e1c2ff,#efbdff,#fcb7ff,#ffaaf6,#ff9ceb,#ff8ee1,#ff82d8,#ff75d0,#ff69c9,#ff5dc2,#ff50bc,#ff41b6,#ff31b1,#ff18ac,#ff00a8,#ff00a3,#ff009f,#ff009b)"></i><i style="left:0px;top:94px;width:159px;background:linear-gradient(90deg,#00fffa,#00fffc,#00fffd,#00ffff,#00fdff,#00fbff,#00f9ff,#00f7ff,#00f5ff,#00f3ff,#00f0ff,#00eeff,#00ebff,#00e8ff,#00e5ff,#00e2ff,#46deff,#6adbff,#85d7ff,#9ad3ff,#adceff,#becaff,#cec5ff,#dcc0ff,#eabaff,#f7b5ff,#ffabfa,#ff9def,#ff8fe5,#ff83dc,#ff76d4,#ff6acc,#ff5dc6,#ff50bf,#ff42b9,#ff31b4,#ff19af,#ff00aa,#ff00a6,#ff00a2,#ff009e)"></i><i style="left:1px;top:95px;width:157px;background:linear-gradient(90deg,#00fffe,#00feff,#00fdff,#00fbff,#00f9ff,#00f7ff,#00f5ff,#00f3ff,#00f1ff,#00efff,#00ecff,#00e9ff,#00e7ff,#00e4ff,#00e1ff,#00ddff,#51daff,#71d6ff,#8ad2ff,#9fceff,#b1caff,#c1c5ff,#d1c0ff,#dfbbff,#ecb5ff,#f9afff,#ffa4f8,#ff96ed,#ff88e3,#ff7cdb,#ff6fd3,#ff62cb,#ff55c5,#ff47be,#ff37b9,#ff23b3,#ff00ae,#ff00aa,#ff00a5,#ff00a1)"></i><i style="left:1px;top:96px;width:157px;background:linear-gradient(90deg,#00fdff,#00fbff,#00faff,#00f8ff,#00f6ff,#00f4ff,#00f2ff,#00f0ff,#00eeff,#00ecff,#00e9ff,#00e6ff,#00e4ff,#00e1ff,#00deff,#00daff,#48d7ff,#6bd3ff,#85d0ff,#99cbff,#acc7ff,#bcc3ff,#ccbeff,#dab8ff,#e8b3ff,#f5adff,#ffa5fd,#ff97f2,#ff89e8,#ff7cdf,#ff70d6,#ff63cf,#ff56c8,#ff48c2,#ff38bc,#ff24b6,#ff00b1,#ff00ac,#ff00a8,#ff00a4)"></i><i style="left:1px;top:97px;width:157px;background:linear-gradient(90deg,#00faff,#00f8ff,#00f6ff,#00f5ff,#00f3ff,#00f1ff,#00efff,#00edff,#00ebff,#00e9ff,#00e6ff,#00e4ff,#00e1ff,#00deff,#00dbff,#00d8ff,#3fd4ff,#65d1ff,#7fcdff,#94c9ff,#a7c5ff,#b8c0ff,#c7bbff,#d5b6ff,#e3b1ff,#f0abff,#fca4ff,#ff98f6,#ff8aec,#ff7de2,#ff70da,#ff64d2,#ff57cb,#ff49c5,#ff39bf,#ff24b9,#ff00b4,#ff00af,#ff00aa,#ff00a6)"></i><i style="left:1px;top:98px;width:157px;background:linear-gradient(90deg,#00f6ff,#00f5ff,#00f3ff,#00f2ff,#00f0ff,#00eeff,#00ecff,#00eaff,#00e8ff,#00e6ff,#00e3ff,#00e1ff,#00deff,#00dbff,#00d8ff,#00d5ff,#34d2ff,#5eceff,#79caff,#8fc7ff,#a2c2ff,#b3beff,#c2b9ff,#d1b4ff,#deafff,#eba9ff,#f7a3ff,#ff99fb,#ff8bf0,#ff7ee6,#ff71de,#ff64d6,#ff57cf,#ff49c8,#ff39c2,#ff25bc,#ff00b7,#ff00b2,#ff00ad,#ff00a9)"></i><i style="left:2px;top:99px;width:155px;background:linear-gradient(90deg,#00f3ff,#00f2ff,#00f0ff,#00eeff,#00edff,#00ebff,#00e9ff,#00e7ff,#00e5ff,#00e3ff,#00e0ff,#00deff,#00dbff,#00d8ff,#00d5ff,#00d2ff,#2acfff,#58ccff,#74c8ff,#8ac4ff,#9dc0ff,#aebcff,#bdb7ff,#cbb2ff,#d9adff,#e6a7ff,#f2a1ff,#fe9bff,#ff8ef5,#ff81ec,#ff74e3,#ff67db,#ff5ad3,#ff4ccc,#ff3dc6,#ff2ac0,#ff09bb,#ff00b6,#ff00b1,#ff00ac)"></i><i style="left:2px;top:100px;width:155px;background:linear-gradient(90deg,#00f0ff,#00efff,#00edff,#00ecff,#00eaff,#00e8ff,#00e6ff,#00e4ff,#00e2ff,#00e0ff,#00deff,#00dbff,#00d9ff,#00d6ff,#00d3ff,#00d0ff,#18cdff,#51c9ff,#6ec6ff,#85c2ff,#98beff,#a9baff,#b8b5ff,#c7b0ff,#d4abff,#e1a5ff,#ed9fff,#f999ff,#ff8ffa,#ff81f0,#ff75e7,#ff68de,#ff5bd7,#ff4dd0,#ff3ec9,#ff2bc3,#ff0bbe,#ff00b8,#ff00b3,#ff00af)"></i><i style="left:2px;top:101px;width:155px;background:linear-gradient(90deg,#00edff,#00ecff,#00eaff,#00e9ff,#00e7ff,#00e5ff,#00e3ff,#00e1ff,#00dfff,#00ddff,#00dbff,#00d9ff,#00d6ff,#00d3ff,#00d0ff,#00cdff,#00caff,#49c7ff,#68c3ff,#80c0ff,#93bcff,#a4b7ff,#b4b3ff,#c2aeff,#d0a9ff,#dca3ff,#e99eff,#f497ff,#ff90fe,#ff82f4,#ff75ea,#ff68e2,#ff5bda,#ff4ed3,#ff3ecc,#ff2cc6,#ff0dc0,#ff00bb,#ff00b6,#ff00b1)"></i><i style="left:2px;top:102px;width:155px;background:linear-gradient(90deg,#00eaff,#00e9ff,#00e7ff,#00e6ff,#00e4ff,#00e3ff,#00e1ff,#00dfff,#00ddff,#00dbff,#00d8ff,#00d6ff,#00d3ff,#00d1ff,#00ceff,#00cbff,#00c8ff,#40c5ff,#62c1ff,#7abdff,#8eb9ff,#a0b5ff,#afb1ff,#beacff,#cba7ff,#d8a2ff,#e49cff,#f096ff,#fb8fff,#ff83f8,#ff76ee,#ff69e6,#ff5cde,#ff4ed6,#ff3fd0,#ff2dc9,#ff0ec3,#ff00be,#ff00b9,#ff00b4)"></i><i style="left:3px;top:103px;width:153px;background:linear-gradient(90deg,#00e7ff,#00e6ff,#00e4ff,#00e3ff,#00e1ff,#00dfff,#00ddff,#00dcff,#00d9ff,#00d7ff,#00d5ff,#00d3ff,#00d0ff,#00cdff,#00caff,#00c7ff,#03c4ff,#4bc1ff,#69bdff,#7fb9ff,#93b5ff,#a3b1ff,#b3acff,#c1a7ff,#cea2ff,#db9dff,#e797ff,#f290ff,#fd89ff,#ff7cf6,#ff6fed,#ff61e4,#ff54dc,#ff45d5,#ff34ce,#ff1bc8,#ff00c2,#ff00bd,#ff00b8)"></i><i style="left:3px;top:104px;width:153px;background:linear-gradient(90deg,#00e5ff,#00e3ff,#00e2ff,#00e0ff,#00dfff,#00ddff,#00dbff,#00d9ff,#00d7ff,#00d5ff,#00d3ff,#00d0ff,#00ceff,#00cbff,#00c8ff,#00c5ff,#00c2ff,#42bfff,#63bbff,#7ab7ff,#8eb3ff,#9fafff,#aeaaff,#bca6ff,#caa0ff,#d69bff,#e295ff,#ee8eff,#f987ff,#ff7dfa,#ff70f1,#ff62e8,#ff54e0,#ff46d8,#ff34d1,#ff1ccb,#ff00c5,#ff00c0,#ff00bb)"></i><i style="left:3px;top:105px;width:153px;background:linear-gradient(90deg,#00e2ff,#00e1ff,#00dfff,#00deff,#00dcff,#00daff,#00d8ff,#00d7ff,#00d4ff,#00d2ff,#00d0ff,#00ceff,#00cbff,#00c9ff,#00c6ff,#00c3ff,#00c0ff,#39bcff,#5cb9ff,#75b5ff,#89b1ff,#9aadff,#aaa9ff,#b8a4ff,#c59fff,#d299ff,#de93ff,#e98dff,#f586ff,#ff7eff,#ff71f5,#ff63ec,#ff55e3,#ff46dc,#ff35d5,#ff1ece,#ff00c8,#ff00c3,#ff00bd)"></i><i style="left:4px;top:106px;width:151px;background:linear-gradient(90deg,#00dfff,#00deff,#00dcff,#00dbff,#00d9ff,#00d7ff,#00d6ff,#00d4ff,#00d2ff,#00d0ff,#00ceff,#00cbff,#00c9ff,#00c6ff,#00c3ff,#00c1ff,#00bdff,#2fbaff,#56b7ff,#6fb3ff,#84afff,#95abff,#a5a7ff,#b3a2ff,#c09dff,#cd98ff,#d992ff,#e48cff,#ef85ff,#fa7eff,#ff73fa,#ff66f1,#ff58e8,#ff4ae1,#ff3ad9,#ff24d3,#ff00cd,#ff00c7,#ff00c1)"></i><i style="left:4px;top:107px;width:151px;background:linear-gradient(90deg,#00ddff,#00dbff,#00daff,#00d8ff,#00d7ff,#00d5ff,#00d3ff,#00d1ff,#00cfff,#00cdff,#00cbff,#00c9ff,#00c7ff,#00c4ff,#00c1ff,#00beff,#00bbff,#22b8ff,#4fb5ff,#6ab1ff,#7fadff,#90a9ff,#a0a5ff,#aea1ff,#bc9cff,#c896ff,#d491ff,#e08bff,#eb84ff,#f57dff,#ff74fe,#ff67f5,#ff59ec,#ff4be4,#ff3add,#ff25d6,#ff00d0,#ff00ca,#ff00c4)"></i><i style="left:5px;top:108px;width:149px;background:linear-gradient(90deg,#00daff,#00d8ff,#00d7ff,#00d5ff,#00d4ff,#00d2ff,#00d0ff,#00ceff,#00ccff,#00caff,#00c8ff,#00c6ff,#00c3ff,#00c1ff,#00beff,#00bbff,#00b8ff,#32b5ff,#57b1ff,#70aeff,#83aaff,#94a5ff,#a4a1ff,#b29cff,#bf97ff,#cb92ff,#d78cff,#e285ff,#ed7eff,#f876ff,#ff6cfc,#ff5ff3,#ff50ea,#ff40e2,#ff2ddb,#ff0dd5,#ff00ce,#ff00c8)"></i><i style="left:5px;top:109px;width:149px;background:linear-gradient(90deg,#00d7ff,#00d6ff,#00d5ff,#00d3ff,#00d2ff,#00d0ff,#00ceff,#00ccff,#00caff,#00c8ff,#00c6ff,#00c4ff,#00c1ff,#00bfff,#00bcff,#00b9ff,#00b6ff,#26b3ff,#50afff,#6aacff,#7ea8ff,#90a4ff,#9f9fff,#ad9bff,#bb96ff,#c790ff,#d38aff,#de84ff,#e97dff,#f375ff,#fe6dff,#ff5ff7,#ff51ee,#ff41e6,#ff2edf,#ff0fd8,#ff00d1,#ff00cb)"></i><i style="left:5px;top:110px;width:149px;background:linear-gradient(90deg,#00d5ff,#00d4ff,#00d2ff,#00d1ff,#00cfff,#00ceff,#00ccff,#00caff,#00c8ff,#00c6ff,#00c4ff,#00c2ff,#00bfff,#00bdff,#00baff,#00b7ff,#00b4ff,#13b1ff,#49adff,#65aaff,#79a6ff,#8ba2ff,#9b9eff,#a999ff,#b694ff,#c38fff,#cf89ff,#da83ff,#e57cff,#ef74ff,#f96cff,#ff60fb,#ff52f2,#ff42ea,#ff2fe2,#ff11db,#ff00d4,#ff00ce)"></i><i style="left:6px;top:111px;width:147px;background:linear-gradient(90deg,#00d2ff,#00d1ff,#00d0ff,#00ceff,#00cdff,#00cbff,#00c9ff,#00c8ff,#00c6ff,#00c4ff,#00c2ff,#00bfff,#00bdff,#00baff,#00b8ff,#00b5ff,#00b2ff,#00afff,#41acff,#5fa8ff,#74a4ff,#86a0ff,#969cff,#a498ff,#b193ff,#be8eff,#c988ff,#d582ff,#df7cff,#ea74ff,#f46cff,#fd63ff,#ff55f7,#ff46ef,#ff34e7,#ff1be0,#ff00d9,#ff00d3)"></i><i style="left:6px;top:112px;width:147px;background:linear-gradient(90deg,#00d0ff,#00cfff,#00cdff,#00ccff,#00cbff,#00c9ff,#00c7ff,#00c5ff,#00c4ff,#00c2ff,#00bfff,#00bdff,#00bbff,#00b8ff,#00b6ff,#00b3ff,#00b0ff,#00adff,#39aaff,#58a6ff,#6fa3ff,#819fff,#919bff,#a096ff,#ad92ff,#ba8cff,#c587ff,#d181ff,#db7aff,#e673ff,#f06bff,#f962ff,#ff56fb,#ff47f2,#ff35ea,#ff1ce3,#ff00dc,#ff00d6)"></i><i style="left:7px;top:113px;width:145px;background:linear-gradient(90deg,#00ceff,#00ccff,#00cbff,#00c9ff,#00c8ff,#00c6ff,#00c5ff,#00c3ff,#00c1ff,#00bfff,#00bdff,#00baff,#00b8ff,#00b5ff,#00b3ff,#00b0ff,#00adff,#00aaff,#43a6ff,#5fa3ff,#749fff,#869bff,#9597ff,#a392ff,#b08dff,#bd88ff,#c882ff,#d37cff,#de75ff,#e86dff,#f265ff,#fc5bff,#ff4df9,#ff3cf0,#ff26e9,#ff00e1,#ff00db)"></i><i style="left:7px;top:114px;width:145px;background:linear-gradient(90deg,#00cbff,#00caff,#00c9ff,#00c7ff,#00c6ff,#00c4ff,#00c3ff,#00c1ff,#00bfff,#00bdff,#00bbff,#00b8ff,#00b6ff,#00b4ff,#00b1ff,#00aeff,#00abff,#00a8ff,#3aa5ff,#59a1ff,#6f9eff,#819aff,#9195ff,#9f91ff,#ac8cff,#b987ff,#c481ff,#cf7bff,#da74ff,#e46cff,#ee64ff,#f85aff,#ff4efd,#ff3df4,#ff27ec,#ff00e5,#ff00de)"></i><i style="left:8px;top:115px;width:143px;background:linear-gradient(90deg,#00c9ff,#00c8ff,#00c6ff,#00c5ff,#00c4ff,#00c2ff,#00c0ff,#00beff,#00bdff,#00bbff,#00b9ff,#00b6ff,#00b4ff,#00b2ff,#00afff,#00acff,#00a9ff,#00a6ff,#31a3ff,#52a0ff,#699cff,#7c98ff,#8c94ff,#9a90ff,#a78bff,#b386ff,#bf80ff,#ca7aff,#d574ff,#df6dff,#e964ff,#f25bff,#fb50ff,#ff41fa,#ff2df1,#ff0bea,#ff00e3)"></i><i style="left:8px;top:116px;width:143px;background:linear-gradient(90deg,#00c7ff,#00c6ff,#00c4ff,#00c3ff,#00c2ff,#00c0ff,#00beff,#00bdff,#00bbff,#00b9ff,#00b7ff,#00b5ff,#00b2ff,#00b0ff,#00adff,#00abff,#00a8ff,#00a5ff,#25a2ff,#4c9eff,#649bff,#7797ff,#8793ff,#968eff,#a38aff,#af85ff,#bb7fff,#c679ff,#d173ff,#db6cff,#e564ff,#ee5aff,#f750ff,#ff42fe,#ff2ef5,#ff0eed,#ff00e6)"></i><i style="left:9px;top:117px;width:141px;background:linear-gradient(90deg,#00c5ff,#00c3ff,#00c2ff,#00c1ff,#00bfff,#00beff,#00bcff,#00baff,#00b8ff,#00b6ff,#00b4ff,#00b2ff,#00afff,#00adff,#00aaff,#00a8ff,#00a5ff,#00a2ff,#339eff,#539bff,#6997ff,#7c93ff,#8b8fff,#998aff,#a686ff,#b380ff,#be7bff,#c974ff,#d36dff,#dd66ff,#e75dff,#f153ff,#fa46ff,#ff36fb,#ff1bf3,#ff00eb)"></i><i style="left:9px;top:118px;width:141px;background:linear-gradient(90deg,#00c3ff,#00c1ff,#00c0ff,#00bfff,#00bdff,#00bcff,#00baff,#00b8ff,#00b6ff,#00b4ff,#00b2ff,#00b0ff,#00aeff,#00abff,#00a9ff,#00a6ff,#00a3ff,#00a0ff,#289dff,#4d99ff,#6496ff,#7792ff,#878eff,#9589ff,#a284ff,#af7fff,#ba79ff,#c573ff,#d06cff,#da65ff,#e35cff,#ed52ff,#f646ff,#ff37ff,#ff1df6,#ff00ef)"></i><i style="left:10px;top:119px;width:139px;background:linear-gradient(90deg,#00c0ff,#00bfff,#00beff,#00bdff,#00bbff,#00b9ff,#00b8ff,#00b6ff,#00b4ff,#00b2ff,#00b0ff,#00aeff,#00acff,#00aaff,#00a7ff,#00a4ff,#00a2ff,#009fff,#189bff,#4598ff,#5e94ff,#7191ff,#828dff,#9088ff,#9d84ff,#a97fff,#b579ff,#c073ff,#ca6dff,#d465ff,#de5dff,#e754ff,#f049ff,#f93aff,#ff25fc,#ff00f4)"></i><i style="left:10px;top:120px;width:139px;background:linear-gradient(90deg,#00bfff,#00bdff,#00bcff,#00bbff,#00b9ff,#00b8ff,#00b6ff,#00b4ff,#00b3ff,#00b1ff,#00afff,#00acff,#00aaff,#00a8ff,#00a5ff,#00a3ff,#00a0ff,#009dff,#009aff,#3d97ff,#5893ff,#6c8fff,#7d8bff,#8c87ff,#9982ff,#a67dff,#b178ff,#bc72ff,#c66cff,#d065ff,#da5cff,#e353ff,#ed48ff,#f53aff,#fe26ff,#ff00f8)"></i><i style="left:11px;top:121px;width:137px;background:linear-gradient(90deg,#00bcff,#00bbff,#00baff,#00b8ff,#00b7ff,#00b5ff,#00b4ff,#00b2ff,#00b0ff,#00aeff,#00acff,#00aaff,#00a8ff,#00a5ff,#00a3ff,#00a0ff,#009dff,#009aff,#1c97ff,#4693ff,#5f90ff,#718cff,#8188ff,#9083ff,#9d7eff,#a979ff,#b473ff,#bf6dff,#c966ff,#d35fff,#dd56ff,#e64bff,#ef3eff,#f82dff,#ff0afd)"></i><i style="left:12px;top:122px;width:135px;background:linear-gradient(90deg,#00baff,#00b9ff,#00b8ff,#00b6ff,#00b5ff,#00b3ff,#00b2ff,#00b0ff,#00aeff,#00acff,#00aaff,#00a8ff,#00a6ff,#00a4ff,#00a1ff,#009eff,#009cff,#0099ff,#0095ff,#3e92ff,#588fff,#6c8bff,#7c87ff,#8a82ff,#987eff,#a479ff,#af73ff,#ba6dff,#c467ff,#ce5fff,#d757ff,#e14dff,#ea41ff,#f232ff,#fb19ff)"></i><i style="left:12px;top:123px;width:135px;background:linear-gradient(90deg,#00b9ff,#00b7ff,#00b6ff,#00b5ff,#00b3ff,#00b2ff,#00b0ff,#00aeff,#00adff,#00abff,#00a9ff,#00a7ff,#00a4ff,#00a2ff,#00a0ff,#009dff,#009aff,#0097ff,#0094ff,#3591ff,#528dff,#678aff,#7886ff,#8681ff,#947dff,#a078ff,#ab72ff,#b66cff,#c066ff,#ca5fff,#d456ff,#dd4dff,#e641ff,#ef32ff,#f71aff)"></i><i style="left:13px;top:124px;width:133px;background:linear-gradient(90deg,#00b7ff,#00b5ff,#00b4ff,#00b3ff,#00b1ff,#00b0ff,#00aeff,#00acff,#00aaff,#00a8ff,#00a6ff,#00a4ff,#00a2ff,#009fff,#009dff,#009aff,#0097ff,#0094ff,#0991ff,#3f8eff,#598aff,#6c86ff,#7c82ff,#8a7dff,#9779ff,#a373ff,#ae6eff,#b967ff,#c360ff,#cd58ff,#d74fff,#e044ff,#e937ff,#f122ff)"></i><i style="left:14px;top:125px;width:131px;background:linear-gradient(90deg,#00b5ff,#00b3ff,#00b2ff,#00b1ff,#00afff,#00aeff,#00acff,#00aaff,#00a8ff,#00a7ff,#00a5ff,#00a2ff,#00a0ff,#009eff,#009bff,#0099ff,#0096ff,#0093ff,#0090ff,#368dff,#5289ff,#6685ff,#7681ff,#857dff,#9278ff,#9e73ff,#a96eff,#b468ff,#be61ff,#c859ff,#d151ff,#da47ff,#e33aff,#ec29ff)"></i><i style="left:15px;top:126px;width:129px;background:linear-gradient(90deg,#00b3ff,#00b1ff,#00b0ff,#00afff,#00adff,#00acff,#00aaff,#00a8ff,#00a6ff,#00a4ff,#00a2ff,#00a0ff,#009eff,#009bff,#0099ff,#0096ff,#0093ff,#0090ff,#0e8dff,#3f89ff,#5886ff,#6b82ff,#7b7eff,#8979ff,#9674ff,#a16fff,#ad69ff,#b763ff,#c15bff,#cb53ff,#d449ff,#dd3eff,#e62eff)"></i><i style="left:15px;top:127px;width:129px;background:linear-gradient(90deg,#00b1ff,#00b0ff,#00aeff,#00adff,#00abff,#00aaff,#00a8ff,#00a7ff,#00a5ff,#00a3ff,#00a1ff,#009fff,#009cff,#009aff,#0097ff,#0095ff,#0092ff,#008fff,#008cff,#3888ff,#5385ff,#6681ff,#777dff,#8578ff,#9273ff,#9e6eff,#a968ff,#b362ff,#bd5bff,#c753ff,#d049ff,#da3eff,#e22eff)"></i><i style="left:16px;top:128px;width:127px;background:linear-gradient(90deg,#00afff,#00aeff,#00acff,#00abff,#00aaff,#00a8ff,#00a7ff,#00a5ff,#00a3ff,#00a1ff,#009fff,#009dff,#009bff,#0099ff,#0096ff,#0093ff,#0091ff,#008eff,#008bff,#2d87ff,#4b84ff,#6080ff,#717cff,#7f78ff,#8c73ff,#986eff,#a368ff,#ae62ff,#b85bff,#c254ff,#cb4bff,#d440ff,#dd33ff)"></i><i style="left:17px;top:129px;width:125px;background:linear-gradient(90deg,#00adff,#00acff,#00abff,#00a9ff,#00a8ff,#00a6ff,#00a4ff,#00a3ff,#00a1ff,#009fff,#009dff,#009bff,#0098ff,#0096ff,#0094ff,#0091ff,#008eff,#008bff,#0088ff,#3884ff,#5281ff,#657dff,#7578ff,#8374ff,#906fff,#9c6aff,#a764ff,#b15dff,#bb56ff,#c54dff,#ce43ff,#d737ff)"></i><i style="left:18px;top:130px;width:123px;background:linear-gradient(90deg,#00abff,#00aaff,#00a9ff,#00a7ff,#00a6ff,#00a4ff,#00a3ff,#00a1ff,#009fff,#009dff,#009bff,#0099ff,#0097ff,#0095ff,#0092ff,#0090ff,#008dff,#008aff,#0087ff,#2d83ff,#4a80ff,#5f7cff,#6f78ff,#7e74ff,#8b6fff,#966aff,#a264ff,#ac5eff,#b657ff,#bf4fff,#c845ff,#d13aff)"></i><i style="left:19px;top:131px;width:121px;background:linear-gradient(90deg,#00a9ff,#00a8ff,#00a7ff,#00a5ff,#00a4ff,#00a2ff,#00a1ff,#009fff,#009dff,#009bff,#0099ff,#0097ff,#0095ff,#0092ff,#0090ff,#008dff,#008aff,#0087ff,#0084ff,#3880ff,#517dff,#6479ff,#7474ff,#8270ff,#8f6bff,#9a65ff,#a55fff,#af58ff,#b951ff,#c348ff,#cc3dff)"></i><i style="left:19px;top:132px;width:121px;background:linear-gradient(90deg,#00a8ff,#00a7ff,#00a5ff,#00a4ff,#00a3ff,#00a1ff,#009fff,#009eff,#009cff,#009aff,#0098ff,#0096ff,#0093ff,#0091ff,#008fff,#008cff,#0089ff,#0086ff,#0083ff,#2f7fff,#4c7cff,#6078ff,#7073ff,#7e6fff,#8b6aff,#9764ff,#a25eff,#ac58ff,#b650ff,#bf47ff,#c83dff)"></i><i style="left:20px;top:133px;width:119px;background:linear-gradient(90deg,#00a6ff,#00a5ff,#00a4ff,#00a2ff,#00a1ff,#009fff,#009eff,#009cff,#009aff,#0098ff,#0096ff,#0094ff,#0092ff,#0090ff,#008dff,#008bff,#0088ff,#0085ff,#0082ff,#217fff,#437bff,#5977ff,#6a73ff,#786fff,#856aff,#9165ff,#9c5fff,#a659ff,#b052ff,#ba49ff,#c340ff)"></i><i style="left:21px;top:134px;width:117px;background:linear-gradient(90deg,#00a5ff,#00a3ff,#00a2ff,#00a1ff,#009fff,#009eff,#009cff,#009aff,#0098ff,#0096ff,#0094ff,#0092ff,#0090ff,#008dff,#008bff,#0088ff,#0085ff,#0082ff,#007fff,#2f7cff,#4b78ff,#5f74ff,#6f70ff,#7d6bff,#8966ff,#9560ff,#a05aff,#aa53ff,#b44bff,#bd42ff)"></i><i style="left:22px;top:135px;width:115px;background:linear-gradient(90deg,#00a3ff,#00a2ff,#00a0ff,#009fff,#009dff,#009cff,#009aff,#0099ff,#0097ff,#0095ff,#0093ff,#0091ff,#008fff,#008cff,#008aff,#0087ff,#0084ff,#0081ff,#007eff,#207bff,#4277ff,#5873ff,#686fff,#776bff,#8466ff,#8f61ff,#9a5bff,#a454ff,#ae4dff,#b744ff)"></i><i style="left:23px;top:136px;width:113px;background:linear-gradient(90deg,#00a1ff,#00a0ff,#009fff,#009dff,#009cff,#009aff,#0098ff,#0097ff,#0095ff,#0093ff,#0091ff,#008fff,#008cff,#008aff,#0087ff,#0085ff,#0082ff,#007fff,#007bff,#2f78ff,#4a74ff,#5e70ff,#6e6cff,#7b67ff,#8862ff,#935cff,#9e56ff,#a84fff,#b246ff)"></i><i style="left:24px;top:137px;width:111px;background:linear-gradient(90deg,#00a0ff,#009eff,#009dff,#009cff,#009aff,#0099ff,#0097ff,#0095ff,#0093ff,#0092ff,#0090ff,#008dff,#008bff,#0089ff,#0086ff,#0084ff,#0081ff,#007eff,#007bff,#2077ff,#4174ff,#5670ff,#676cff,#7567ff,#8262ff,#8d5dff,#9857ff,#a250ff,#ac48ff)"></i><i style="left:25px;top:138px;width:109px;background:linear-gradient(90deg,#009eff,#009dff,#009bff,#009aff,#0098ff,#0097ff,#0095ff,#0093ff,#0092ff,#0090ff,#008dff,#008bff,#0089ff,#0087ff,#0084ff,#0081ff,#007eff,#007bff,#0078ff,#2e74ff,#4970ff,#5d6cff,#6c68ff,#7a63ff,#865eff,#9258ff,#9c51ff,#a64aff)"></i><i style="left:27px;top:139px;width:105px;background:linear-gradient(90deg,#009cff,#009bff,#0099ff,#0098ff,#0096ff,#0095ff,#0093ff,#0091ff,#008fff,#008dff,#008bff,#0089ff,#0087ff,#0084ff,#0082ff,#007fff,#007cff,#0079ff,#0075ff,#3672ff,#4e6eff,#6069ff,#6f65ff,#7d60ff,#885aff,#9354ff,#9e4dff)"></i><i style="left:28px;top:140px;width:103px;background:linear-gradient(90deg,#009aff,#0099ff,#0098ff,#0096ff,#0095ff,#0093ff,#0092ff,#0090ff,#008eff,#008cff,#008aff,#0088ff,#0086ff,#0083ff,#0081ff,#007eff,#007bff,#0078ff,#0075ff,#2971ff,#466dff,#5969ff,#6965ff,#7660ff,#825bff,#8d55ff,#984fff)"></i><i style="left:29px;top:141px;width:101px;background:linear-gradient(90deg,#0099ff,#0098ff,#0096ff,#0095ff,#0093ff,#0092ff,#0090ff,#008eff,#008cff,#008aff,#0088ff,#0086ff,#0083ff,#0081ff,#007eff,#007bff,#0078ff,#0075ff,#0072ff,#356eff,#4d6aff,#5f66ff,#6e61ff,#7b5cff,#8756ff,#9250ff)"></i><i style="left:30px;top:142px;width:99px;background:linear-gradient(90deg,#0097ff,#0096ff,#0095ff,#0093ff,#0092ff,#0090ff,#008fff,#008dff,#008bff,#0089ff,#0087ff,#0085ff,#0082ff,#0080ff,#007dff,#007bff,#0078ff,#0075ff,#0071ff,#286eff,#446aff,#5866ff,#6761ff,#755dff,#8157ff,#8c51ff)"></i><i style="left:32px;top:143px;width:95px;background:linear-gradient(90deg,#0096ff,#0094ff,#0093ff,#0091ff,#0090ff,#008eff,#008dff,#008bff,#0089ff,#0087ff,#0085ff,#0083ff,#0080ff,#007eff,#007bff,#0078ff,#0075ff,#0072ff,#006fff,#306bff,#4967ff,#5b63ff,#6a5eff,#7759ff,#8354ff)"></i><i style="left:33px;top:144px;width:93px;background:linear-gradient(90deg,#0094ff,#0093ff,#0091ff,#0090ff,#008eff,#008dff,#008bff,#0089ff,#0087ff,#0085ff,#0083ff,#0080ff,#007eff,#007bff,#0079ff,#0076ff,#0073ff,#006fff,#146cff,#3b68ff,#5164ff,#615fff,#6f5aff,#7c55ff)"></i><i style="left:35px;top:145px;width:89px;background:linear-gradient(90deg,#0092ff,#0091ff,#008fff,#008eff,#008cff,#008bff,#0089ff,#0087ff,#0085ff,#0083ff,#0081ff,#007eff,#007cff,#0079ff,#0076ff,#0073ff,#0070ff,#006dff,#2269ff,#4165ff,#5561ff,#645cff,#7257ff)"></i><i style="left:36px;top:146px;width:87px;background:linear-gradient(90deg,#0091ff,#008fff,#008eff,#008dff,#008bff,#0089ff,#0088ff,#0086ff,#0084ff,#0082ff,#0080ff,#007dff,#007bff,#0078ff,#0076ff,#0073ff,#0070ff,#006dff,#0369ff,#3565ff,#4c61ff,#5d5dff,#6b58ff)"></i><i style="left:38px;top:147px;width:83px;background:linear-gradient(90deg,#008fff,#008eff,#008cff,#008bff,#0089ff,#0088ff,#0086ff,#0084ff,#0082ff,#0080ff,#007eff,#007bff,#0079ff,#0076ff,#0074ff,#0071ff,#006dff,#006aff,#1867ff,#3b63ff,#505fff,#605aff)"></i><i style="left:40px;top:148px;width:79px;background:linear-gradient(90deg,#008dff,#008cff,#008aff,#0089ff,#0087ff,#0086ff,#0084ff,#0082ff,#0080ff,#007eff,#007cff,#0079ff,#0077ff,#0074ff,#0071ff,#006eff,#006bff,#0068ff,#2364ff,#4060ff,#535cff)"></i><i style="left:41px;top:149px;width:77px;background:linear-gradient(90deg,#008cff,#008bff,#0089ff,#0087ff,#0086ff,#0084ff,#0082ff,#0080ff,#007eff,#007cff,#007aff,#0077ff,#0075ff,#0072ff,#006fff,#006cff,#0068ff,#0065ff,#3261ff,#495cff)"></i><i style="left:43px;top:150px;width:73px;background:linear-gradient(90deg,#008aff,#0089ff,#0087ff,#0086ff,#0084ff,#0082ff,#0080ff,#007eff,#007cff,#007aff,#0078ff,#0075ff,#0072ff,#0070ff,#006cff,#0069ff,#0066ff,#1162ff,#385eff)"></i><i style="left:45px;top:151px;width:69px;background:linear-gradient(90deg,#0089ff,#0087ff,#0086ff,#0084ff,#0082ff,#0080ff,#007eff,#007cff,#007aff,#0078ff,#0076ff,#0073ff,#0070ff,#006dff,#006aff,#0067ff,#0063ff,#1f5fff)"></i><i style="left:48px;top:152px;width:63px;background:linear-gradient(90deg,#0086ff,#0085ff,#0083ff,#0082ff,#0080ff,#007eff,#007cff,#007aff,#0078ff,#0076ff,#0074ff,#0071ff,#006eff,#006cff,#0069ff,#0065ff,#0062ff)"></i><i style="left:50px;top:153px;width:59px;background:linear-gradient(90deg,#0085ff,#0083ff,#0082ff,#0080ff,#007eff,#007dff,#007bff,#0079ff,#0076ff,#0074ff,#0072ff,#006fff,#006cff,#0069ff,#0066ff,#0063ff)"></i><i style="left:53px;top:154px;width:53px;background:linear-gradient(90deg,#0083ff,#0081ff,#007fff,#007eff,#007cff,#007aff,#0078ff,#0076ff,#0073ff,#0071ff,#006eff,#006bff,#0068ff,#0065ff)"></i><i style="left:56px;top:155px;width:47px;background:linear-gradient(90deg,#0081ff,#007fff,#007dff,#007cff,#007aff,#0078ff,#0076ff,#0074ff,#0071ff,#006fff,#006cff,#006aff,#0067ff)"></i><i style="left:60px;top:156px;width:39px;background:linear-gradient(90deg,#007eff,#007dff,#007bff,#0079ff,#0077ff,#0075ff,#0073ff,#0071ff,#006eff,#006cff,#0069ff)"></i><i style="left:65px;top:157px;width:29px;background:linear-gradient(90deg,#007bff,#0079ff,#0077ff,#0075ff,#0073ff,#0071ff,#006eff,#006cff)"></i><i style="left:78px;top:158px;width:3px;background:linear-gradient(90deg,#0074ff,#0073ff)"></i></div>
<svg class="a" style="left:545px;top:25px" width="262" height="200" viewBox="545 25 262 200">
 <g stroke="#161616" stroke-width="1" opacity=".68">
  <line x1="563.5" y1="122.5" x2="722" y2="122.5"/>
  <line x1="642.5" y1="43.5" x2="642.5" y2="202"/>
  <g id="wt"><line x1="582.8" y1="121" x2="582.8" y2="126"/><line x1="641" y1="182.2" x2="646.5" y2="182.2"/><line x1="602.7" y1="121" x2="602.7" y2="126"/><line x1="641" y1="162.3" x2="646.5" y2="162.3"/><line x1="622.6" y1="121" x2="622.6" y2="126"/><line x1="641" y1="142.4" x2="646.5" y2="142.4"/><line x1="662.4" y1="121" x2="662.4" y2="126"/><line x1="641" y1="102.6" x2="646.5" y2="102.6"/><line x1="682.3" y1="121" x2="682.3" y2="126"/><line x1="641" y1="82.7" x2="646.5" y2="82.7"/><line x1="702.2" y1="121" x2="702.2" y2="126"/><line x1="641" y1="62.8" x2="646.5" y2="62.8"/></g>
 </g>
 <g stroke="#6b5a3a" stroke-width="1" opacity=".26">
  <line x1="652" y1="72.5" x2="668.5" y2="72.5"/><line x1="659.5" y1="64" x2="659.5" y2="80"/>
  <line x1="645.5" y1="88.5" x2="660.5" y2="88.5"/><line x1="652.5" y1="80" x2="652.5" y2="96"/>
 </g>
</svg>
<div class="t tc w6" style="left:584.0px;top:112.5px">-75</div><div class="t tr w6" style="left:639px;top:178.2px">-75</div><div class="t tc w6" style="left:603.9px;top:112.5px">-50</div><div class="t tr w6" style="left:639px;top:158.3px">-50</div><div class="t tc w6" style="left:623.8px;top:112.5px">-25</div><div class="t tr w6" style="left:639px;top:138.4px">-25</div><div class="t tc w6" style="left:662.4px;top:112.5px">25</div><div class="t tr w6" style="left:639px;top:98.6px">25</div><div class="t tc w6" style="left:682.3px;top:112.5px">50</div><div class="t tr w6" style="left:639px;top:78.7px">50</div><div class="t tc w6" style="left:702.2px;top:112.5px">75</div><div class="t tr w6" style="left:639px;top:58.8px">75</div><div class="t w6" style="left:565.5px;top:124px">a</div><div class="t w6" style="left:645px;top:193px">b</div>
<!-- L bar chart -->
<svg class="a" style="left:733px;top:35px" width="58" height="176" viewBox="733 35 58 176">
 <defs>
  <linearGradient id="bb" x1="0" x2="1"><stop offset="0" stop-color="#3d6aa6"/><stop offset=".45" stop-color="#5f8fcb"/><stop offset="1" stop-color="#3a639b"/></linearGradient>
  <linearGradient id="br" x1="0" x2="1"><stop offset="0" stop-color="#a23a38"/><stop offset=".45" stop-color="#cc615e"/><stop offset="1" stop-color="#983533"/></linearGradient>
  <linearGradient id="bg" x1="0" x2="1"><stop offset="0" stop-color="#7f9c41"/><stop offset=".45" stop-color="#a9c768"/><stop offset="1" stop-color="#77933c"/></linearGradient>
 </defs>
 <rect x="759" y="58.4" width="21" height="43" fill="#efefef"/>
 <rect x="759" y="144.4" width="21" height="43.1" fill="#efefef"/>
 <g stroke="#e2e2e2" stroke-width="1"><line x1="759" y1="43.8" x2="780" y2="43.8"/><line x1="780" y1="43.8" x2="780" y2="187.5"/><line x1="759" y1="58.4" x2="780" y2="58.4"/><line x1="759" y1="101.4" x2="780" y2="101.4"/><line x1="759" y1="144.4" x2="780" y2="144.4"/></g>
 <rect x="761.4" y="92" width="5.9" height="95.5" fill="url(#bb)"/><rect x="762.6" y="93" width="3.5" height="1.4" fill="#fff" opacity=".55"/>
 <rect x="767.3" y="75.9" width="5.2" height="111.6" fill="url(#br)"/><rect x="768.4" y="76.9" width="3" height="1.3" fill="#fff" opacity=".4"/>
 <rect x="772.5" y="75.9" width="5.3" height="111.6" fill="url(#bg)"/><rect x="773.6" y="76.9" width="3.1" height="1.3" fill="#fff" opacity=".4"/>
 <g stroke="#555" stroke-width="1" id="bt"><line x1="756" y1="187.5" x2="758.7" y2="187.5"/><line x1="757.3" y1="178.9" x2="758.7" y2="178.9"/><line x1="757.3" y1="170.3" x2="758.7" y2="170.3"/><line x1="757.3" y1="161.6" x2="758.7" y2="161.6"/><line x1="757.3" y1="153.0" x2="758.7" y2="153.0"/><line x1="756" y1="144.4" x2="758.7" y2="144.4"/><line x1="757.3" y1="135.8" x2="758.7" y2="135.8"/><line x1="757.3" y1="127.1" x2="758.7" y2="127.1"/><line x1="757.3" y1="118.5" x2="758.7" y2="118.5"/><line x1="757.3" y1="109.9" x2="758.7" y2="109.9"/><line x1="756" y1="101.3" x2="758.7" y2="101.3"/><line x1="757.3" y1="92.7" x2="758.7" y2="92.7"/><line x1="757.3" y1="84.0" x2="758.7" y2="84.0"/><line x1="757.3" y1="75.4" x2="758.7" y2="75.4"/><line x1="757.3" y1="66.8" x2="758.7" y2="66.8"/><line x1="756" y1="58.2" x2="758.7" y2="58.2"/><line x1="757.3" y1="49.5" x2="758.7" y2="49.5"/></g>
 <line x1="758.7" y1="43.8" x2="758.7" y2="188" stroke="#555"/>
 <line x1="756" y1="187.5" x2="780" y2="187.5" stroke="#555"/>
 <line x1="769.5" y1="187.5" x2="769.5" y2="190" stroke="#555"/>
</svg>
<div class="t tr" style="left:752.5px;top:53.5px">90</div>
<div class="t tr" style="left:752.5px;top:96.5px">60</div>
<div class="t tr" style="left:752.5px;top:139.5px">30</div>
<div class="t tr" style="left:752.5px;top:182.5px">0</div>
<div class="t tc" style="left:769.8px;top:190.5px">L</div>

<!-- splitter -->
<div class="a" style="left:399px;top:233.3px;width:8.4px;height:1.4px;background:repeating-linear-gradient(90deg,#a4a4a4 0 1px,transparent 1px 2.45px)"></div>
<!-- tab content -->
<div class="a" style="left:6.5px;top:249px;width:795px;height:162.5px;border:1px solid #bcbfc4;background:#fff"></div>
<!-- tabs -->
<div class="a" style="left:39px;top:236px;width:42px;height:13px;border:1px solid #c4c8ce;border-bottom:none;background:linear-gradient(#f6f8fb,#e8ebf2 50%,#dfe4ee 51%,#e6eaf2)"></div>
<div class="a" style="left:6.5px;top:235px;width:33.5px;height:15px;border:1px solid #bcbfc4;border-bottom:none;background:#fff"></div>
<div class="t" id="tb1" style="left:13px;top:238.7px">Tinting</div>
<div class="t" id="tb2" style="left:45.5px;top:238.7px">Iterations</div>
<!-- grid -->
<div class="a" style="left:13px;top:256px;width:781px;height:130.5px;border:1px solid #8f949c;background:#fff"></div>
<div class="a" style="left:14px;top:257px;width:779px;height:13.5px;background:linear-gradient(#fcfcfd,#f0f1f4 50%,#e4e6ea 51%,#e9ebee);border-bottom:1px solid #8f949c"></div>
<div class="hd" style="left:13.5px;width:83.8px"></div><div class="hd" style="left:95.3px;width:84.2px"></div><div class="hd" style="left:177.5px;width:84.3px"></div><div class="hd" style="left:259.8px;width:84.2px"></div><div class="hd" style="left:342px;width:84.3px"></div><div class="hd" style="left:424.3px;width:278.0px"></div><div class="hd" style="left:700.3px;width:84.3px"></div><div class="t" id="h0" style="left:16.5px;top:259.6px;color:#222">Name</div><div class="t" id="h1" style="left:98.3px;top:259.6px;color:#222">Amount Summary</div><div class="t" id="h2" style="left:180.5px;top:259.6px;color:#222">Tinctorial Strength Su...</div><div class="t" id="h3" style="left:262.8px;top:259.6px;color:#222">Amount</div><div class="t" id="h4" style="left:345px;top:259.6px;color:#222">Tinctorial Strength</div><div class="t" id="h5" style="left:427.3px;top:259.6px;color:#222">Remission Curve</div>
<div class="clip">
 <div class="a" style="left:0;top:0;width:770px;height:75px;background:#eff0f3;border-bottom:1px solid #e3e5e9"></div>
 <div class="a" style="left:0;top:0;width:82px;height:75px;background:#f4f6f9"></div>
</div>

<svg class="a" style="left:13.5px;top:270.5px" width="770" height="115.5" viewBox="13.5 270.5 770 115.5">
 <defs><linearGradient id="sp2" x1="0" x2="1"><stop offset="0" stop-color="#222"/><stop offset=".07" stop-color="#5a0090"/><stop offset=".17" stop-color="#2000f0"/><stop offset=".24" stop-color="#0040ff"/><stop offset=".31" stop-color="#00f0ff"/><stop offset=".35" stop-color="#00ff00"/><stop offset=".47" stop-color="#a0ff00"/><stop offset=".515" stop-color="#ffff00"/><stop offset=".58" stop-color="#ff9000"/><stop offset=".667" stop-color="#ff0000"/><stop offset=".8" stop-color="#f00000"/><stop offset=".9" stop-color="#800000"/><stop offset="1" stop-color="#222"/></linearGradient></defs>
<line x1="274.7" y1="284.7" x2="327.9" y2="284.7" stroke="#a6a6a6" stroke-width=".9"/><line x1="301.9" y1="283.0" x2="301.9" y2="286.4" stroke="#9c9c9c" stroke-width=".9"/><circle cx="270.7" cy="284.7" r="3.85" fill="#f3f3f3" stroke="#7c7c7c" stroke-width="1.1"/><line x1="268.5" y1="284.7" x2="272.9" y2="284.7" stroke="#555" stroke-width="1.1"/><circle cx="331.9" cy="284.7" r="3.85" fill="#f3f3f3" stroke="#7c7c7c" stroke-width="1.1"/><line x1="329.7" y1="284.7" x2="334.09999999999997" y2="284.7" stroke="#555" stroke-width="1.1"/><line x1="331.9" y1="282.5" x2="331.9" y2="286.9" stroke="#555" stroke-width="1.1"/><rect x="276.3" y="280.0" width="6.6" height="9.5" rx=".7" fill="#e2e2e2" stroke="#747474" stroke-width="1"/><line x1="279.6" y1="283.7" x2="279.6" y2="287.2" stroke="#8a8a8a" stroke-width="1"/><line x1="357.2" y1="284.7" x2="410.2" y2="284.7" stroke="#a6a6a6" stroke-width=".9"/><circle cx="353.2" cy="284.7" r="3.85" fill="#f3f3f3" stroke="#7c7c7c" stroke-width="1.1"/><line x1="351.0" y1="284.7" x2="355.4" y2="284.7" stroke="#555" stroke-width="1.1"/><circle cx="414.2" cy="284.7" r="3.85" fill="#f3f3f3" stroke="#7c7c7c" stroke-width="1.1"/><line x1="412.0" y1="284.7" x2="416.4" y2="284.7" stroke="#555" stroke-width="1.1"/><line x1="414.2" y1="282.5" x2="414.2" y2="286.9" stroke="#555" stroke-width="1.1"/><rect x="380.3" y="280.0" width="6.6" height="9.5" rx=".7" fill="#e2e2e2" stroke="#747474" stroke-width="1"/><line x1="383.6" y1="283.7" x2="383.6" y2="287.2" stroke="#8a8a8a" stroke-width="1"/><line x1="274.7" y1="360.2" x2="327.9" y2="360.2" stroke="#a6a6a6" stroke-width=".9"/><line x1="301.9" y1="358.5" x2="301.9" y2="361.9" stroke="#9c9c9c" stroke-width=".9"/><circle cx="270.7" cy="360.2" r="3.85" fill="#f3f3f3" stroke="#7c7c7c" stroke-width="1.1"/><line x1="268.5" y1="360.2" x2="272.9" y2="360.2" stroke="#555" stroke-width="1.1"/><circle cx="331.9" cy="360.2" r="3.85" fill="#f3f3f3" stroke="#7c7c7c" stroke-width="1.1"/><line x1="329.7" y1="360.2" x2="334.09999999999997" y2="360.2" stroke="#555" stroke-width="1.1"/><line x1="331.9" y1="358.0" x2="331.9" y2="362.4" stroke="#555" stroke-width="1.1"/><rect x="276.3" y="355.5" width="6.6" height="9.5" rx=".7" fill="#e2e2e2" stroke="#747474" stroke-width="1"/><line x1="279.6" y1="359.2" x2="279.6" y2="362.7" stroke="#8a8a8a" stroke-width="1"/><line x1="357.2" y1="360.2" x2="410.2" y2="360.2" stroke="#a6a6a6" stroke-width=".9"/><circle cx="353.2" cy="360.2" r="3.85" fill="#f3f3f3" stroke="#7c7c7c" stroke-width="1.1"/><line x1="351.0" y1="360.2" x2="355.4" y2="360.2" stroke="#555" stroke-width="1.1"/><circle cx="414.2" cy="360.2" r="3.85" fill="#f3f3f3" stroke="#7c7c7c" stroke-width="1.1"/><line x1="412.0" y1="360.2" x2="416.4" y2="360.2" stroke="#555" stroke-width="1.1"/><line x1="414.2" y1="358.0" x2="414.2" y2="362.4" stroke="#555" stroke-width="1.1"/><rect x="380.3" y="355.5" width="6.6" height="9.5" rx=".7" fill="#e2e2e2" stroke="#747474" stroke-width="1"/><line x1="383.6" y1="359.2" x2="383.6" y2="362.7" stroke="#8a8a8a" stroke-width="1"/><rect x="425.4" y="279.0" width="274" height="58.4" fill="#fff"/><rect x="454.8" y="284.2" width="229.7" height="38.3" fill="#efefef"/><line x1="454.8" y1="284.2" x2="684.5" y2="284.2" stroke="#dcdcdc"/><line x1="684.5" y1="284.2" x2="684.5" y2="322.5" stroke="#e2e2e2"/><rect x="454.8" y="321.8" width="229.7" height="1.4" fill="url(#sp2)" opacity=".8"/><line x1="454.8" y1="284.2" x2="454.8" y2="325.0" stroke="#555"/><line x1="452.3" y1="322.5" x2="455.3" y2="322.5" stroke="#444"/><line x1="453.8" y1="314.8" x2="455.3" y2="314.8" stroke="#777" stroke-opacity=".7"/><line x1="453.8" y1="307.2" x2="455.3" y2="307.2" stroke="#777" stroke-opacity=".7"/><line x1="453.8" y1="299.5" x2="455.3" y2="299.5" stroke="#777" stroke-opacity=".7"/><line x1="453.8" y1="291.9" x2="455.3" y2="291.9" stroke="#777" stroke-opacity=".7"/><line x1="452.3" y1="284.2" x2="455.3" y2="284.2" stroke="#444"/><line x1="454.8" y1="322.5" x2="454.8" y2="325.1" stroke="#444" stroke-opacity="1"/><line x1="470.1" y1="322.5" x2="470.1" y2="323.9" stroke="#444" stroke-opacity="0.55"/><line x1="485.4" y1="322.5" x2="485.4" y2="323.9" stroke="#444" stroke-opacity="0.55"/><line x1="500.7" y1="322.5" x2="500.7" y2="323.9" stroke="#444" stroke-opacity="0.55"/><line x1="516.1" y1="322.5" x2="516.1" y2="323.9" stroke="#444" stroke-opacity="0.55"/><line x1="531.4" y1="322.5" x2="531.4" y2="325.1" stroke="#444" stroke-opacity="1"/><line x1="546.7" y1="322.5" x2="546.7" y2="323.9" stroke="#444" stroke-opacity="0.55"/><line x1="562.0" y1="322.5" x2="562.0" y2="323.9" stroke="#444" stroke-opacity="0.55"/><line x1="577.3" y1="322.5" x2="577.3" y2="323.9" stroke="#444" stroke-opacity="0.55"/><line x1="592.6" y1="322.5" x2="592.6" y2="323.9" stroke="#444" stroke-opacity="0.55"/><line x1="607.9" y1="322.5" x2="607.9" y2="325.1" stroke="#444" stroke-opacity="1"/><line x1="623.2" y1="322.5" x2="623.2" y2="323.9" stroke="#444" stroke-opacity="0.55"/><line x1="638.6" y1="322.5" x2="638.6" y2="323.9" stroke="#444" stroke-opacity="0.55"/><line x1="653.9" y1="322.5" x2="653.9" y2="323.9" stroke="#444" stroke-opacity="0.55"/><line x1="669.2" y1="322.5" x2="669.2" y2="323.9" stroke="#444" stroke-opacity="0.55"/><line x1="684.5" y1="322.5" x2="684.5" y2="325.1" stroke="#444" stroke-opacity="1"/><path d="M454.8,303.9 L458,300 L463.3,295.4 L467,292.8 L470.8,290.9 L475,289.9 L480,289.4 L500,288.6 L530,287.8 L563.7,287.2 L600,286.6 L640,286.2 L650,286.5 L665,285.9 L684.5,285.8" fill="none" stroke="#5585c0" stroke-width="1.15"/><rect x="454.8" y="360.3" width="229.7" height="38.3" fill="#efefef"/><line x1="454.8" y1="360.3" x2="684.5" y2="360.3" stroke="#dcdcdc"/><line x1="684.5" y1="360.3" x2="684.5" y2="398.6" stroke="#e2e2e2"/><rect x="454.8" y="397.9" width="229.7" height="1.4" fill="url(#sp2)" opacity=".8"/><line x1="454.8" y1="360.3" x2="454.8" y2="401.1" stroke="#555"/><line x1="452.3" y1="398.6" x2="455.3" y2="398.6" stroke="#444"/><line x1="453.8" y1="390.9" x2="455.3" y2="390.9" stroke="#777" stroke-opacity=".7"/><line x1="453.8" y1="383.3" x2="455.3" y2="383.3" stroke="#777" stroke-opacity=".7"/><line x1="453.8" y1="375.6" x2="455.3" y2="375.6" stroke="#777" stroke-opacity=".7"/><line x1="453.8" y1="368.0" x2="455.3" y2="368.0" stroke="#777" stroke-opacity=".7"/><line x1="452.3" y1="360.3" x2="455.3" y2="360.3" stroke="#444"/><line x1="454.8" y1="398.6" x2="454.8" y2="401.20000000000005" stroke="#444" stroke-opacity="1"/><line x1="470.1" y1="398.6" x2="470.1" y2="400.0" stroke="#444" stroke-opacity="0.55"/><line x1="485.4" y1="398.6" x2="485.4" y2="400.0" stroke="#444" stroke-opacity="0.55"/><line x1="500.7" y1="398.6" x2="500.7" y2="400.0" stroke="#444" stroke-opacity="0.55"/><line x1="516.1" y1="398.6" x2="516.1" y2="400.0" stroke="#444" stroke-opacity="0.55"/><line x1="531.4" y1="398.6" x2="531.4" y2="401.20000000000005" stroke="#444" stroke-opacity="1"/><line x1="546.7" y1="398.6" x2="546.7" y2="400.0" stroke="#444" stroke-opacity="0.55"/><line x1="562.0" y1="398.6" x2="562.0" y2="400.0" stroke="#444" stroke-opacity="0.55"/><line x1="577.3" y1="398.6" x2="577.3" y2="400.0" stroke="#444" stroke-opacity="0.55"/><line x1="592.6" y1="398.6" x2="592.6" y2="400.0" stroke="#444" stroke-opacity="0.55"/><line x1="607.9" y1="398.6" x2="607.9" y2="401.20000000000005" stroke="#444" stroke-opacity="1"/><line x1="623.2" y1="398.6" x2="623.2" y2="400.0" stroke="#444" stroke-opacity="0.55"/><line x1="638.6" y1="398.6" x2="638.6" y2="400.0" stroke="#444" stroke-opacity="0.55"/><line x1="653.9" y1="398.6" x2="653.9" y2="400.0" stroke="#444" stroke-opacity="0.55"/><line x1="669.2" y1="398.6" x2="669.2" y2="400.0" stroke="#444" stroke-opacity="0.55"/><line x1="684.5" y1="398.6" x2="684.5" y2="401.20000000000005" stroke="#444" stroke-opacity="1"/><path d="M454.8,394 L500,393 L530,392 L550,389.5 L565.6,385.8 L580,382 L593.4,379 L605,376.8 L615.7,375 L626,374.1 L636.2,373.8 L648,374.2 L660.4,375 L672,376.2 L684.5,377.2" fill="none" stroke="#5585c0" stroke-width="1.15"/><rect x="101.7" y="312.9" width="23.8" height="5.7" fill="#f00000"/></svg><div class="a" style="left:13.5px;top:270.5px;width:769.5px;height:115.5px;overflow:hidden"><div class="a" style="left:-13.5px;top:-270.5px;width:807px;height:419px"><div class="t" id="nm0" style="left:12.9px;top:303.5px;">01 - Weiss</div><div class="t tc" id="am0" style="left:137px;top:297.7px;">2.00 kg</div><div class="t tc" style="left:219.3px;top:303.5px;">100.00 %</div><div class="t" id="rg0" style="left:264px;top:303px;"><b style="font-size:7.2px;color:#111">Range:</b></div><div class="cmb" style="left:289px;top:302px;width:50.5px;height:12px;transform:translateY(-.6px)"></div><div class="t" style="left:292.5px;top:303px;width:39px;overflow:hidden">0 kg - 300</div><div class="a" style="left:326.5px;top:304.8px;width:1px;height:6px;background:#e6dfc8"></div><div class="arr" style="left:333px;top:307px"></div><div class="t" style="left:290.9px;top:326.7px;">0,00</div><div class="t" style="left:309.6px;top:326.7px;">kg</div><div class="t tc" style="left:384.2px;top:327.2px;">100.00 %</div><div class="t tr m" style="left:449.5px;top:280.5px;">100</div><div class="t tr m" style="left:449.5px;top:317.5px;">0</div><div class="t tc m" style="left:455.60px;top:327.5px;">400 nm</div><div class="t tc m" style="left:532.17px;top:327.5px;">500 nm</div><div class="t tc m" style="left:608.74px;top:327.5px;">600 nm</div><div class="t tc m" style="left:685.31px;top:327.5px;">700 nm</div><div class="t" id="nm75" style="left:12.9px;top:378.8px;">05 - Gelb 1</div><div class="t tc" id="am75" style="left:137px;top:373.0px;">6.00 kg</div><div class="t tc" style="left:219.3px;top:378.8px;">100.00 %</div><div class="t" id="rg75" style="left:264px;top:378.3px;"><b style="font-size:7.2px;color:#111">Range:</b></div><div class="cmb" style="left:289px;top:376px;width:50.5px;height:12px;transform:translateY(.3px)"></div><div class="t" style="left:292.5px;top:378.3px;width:39px;overflow:hidden">0 kg - 300</div><div class="a" style="left:326.5px;top:380.1px;width:1px;height:6px;background:#e6dfc8"></div><div class="arr" style="left:333px;top:382.3px"></div><div class="t" style="left:290.9px;top:402.0px;">0,00</div><div class="t" style="left:309.6px;top:402.0px;">kg</div><div class="t tc" style="left:384.2px;top:402.5px;">100.00 %</div><div class="t tr m" style="left:449.5px;top:355.8px;">100</div><div class="t tr m" style="left:449.5px;top:392.8px;">0</div><div class="t tc m" style="left:455.60px;top:402.8px;">400 nm</div><div class="t tc m" style="left:532.17px;top:402.8px;">500 nm</div><div class="t tc m" style="left:608.74px;top:402.8px;">600 nm</div><div class="t tc m" style="left:685.31px;top:402.8px;">700 nm</div></div></div>
<div class="a" style="left:783px;top:271px;width:10.5px;height:115px;background:#f3f3f3;border-left:1px solid #e6e6e6"></div>
<div class="a" style="left:783.5px;top:281.5px;width:9px;height:70.5px;border:1px solid #a9a9a9;border-radius:1.5px;background:linear-gradient(90deg,#fbfbfb,#ececec 45%,#dadada 55%,#e0e0e0)"></div>
<div class="a" style="left:785.8px;top:315px;width:4.5px;height:4px;background:repeating-linear-gradient(#999 0 1px,transparent 1px 1.5px)"></div>
<svg class="a" style="left:783px;top:271px" width="11" height="115" viewBox="783 271 11 115"><path d="M785.5,277.4 L790.5,277.4 L788,274.5 Z" fill="#4a4a4a"/><path d="M785.5,378.8 L790.5,378.8 L788,381.7 Z" fill="#4a4a4a"/></svg>
<div class="btn" style="left:27.8px;width:54.5px"></div><div class="t tc" id="b1" style="left:55.05px;top:395.1px;color:#1a1a1a">AutoSuggest</div><div class="cmb" style="left:97px;top:393px;width:88.7px;height:12.5px"></div><div class="t" id="c1" style="left:100.5px;top:395.1px;">03 - Schwarz</div><div class="arr" style="left:178.5px;top:398.2px"></div><div class="btn" style="left:189px;width:53.6px"></div><div class="t tc" id="b2" style="left:215.8px;top:395.1px;color:#1a1a1a">Add product</div><div class="btn" style="left:257.4px;width:77.2px"></div><div class="t tc" id="b3" style="left:296.0px;top:395.1px;color:#1a1a1a">Create new iteration</div><div class="btn" style="left:350.4px;width:64.2px"></div><div class="t tc" id="b4" style="left:382.5px;top:395.1px;color:#1a1a1a">Create snapshot</div><div class="cmb" style="left:427.3px;top:393px;width:177.3px;height:12.5px"></div><div class="arr" style="left:597.5px;top:398.2px"></div><div class="btn" style="left:607.6px;width:63.2px"></div><div class="t tc" id="b5" style="left:639.2px;top:395.1px;color:#1a1a1a">Apply Snapshot</div></body></html>
